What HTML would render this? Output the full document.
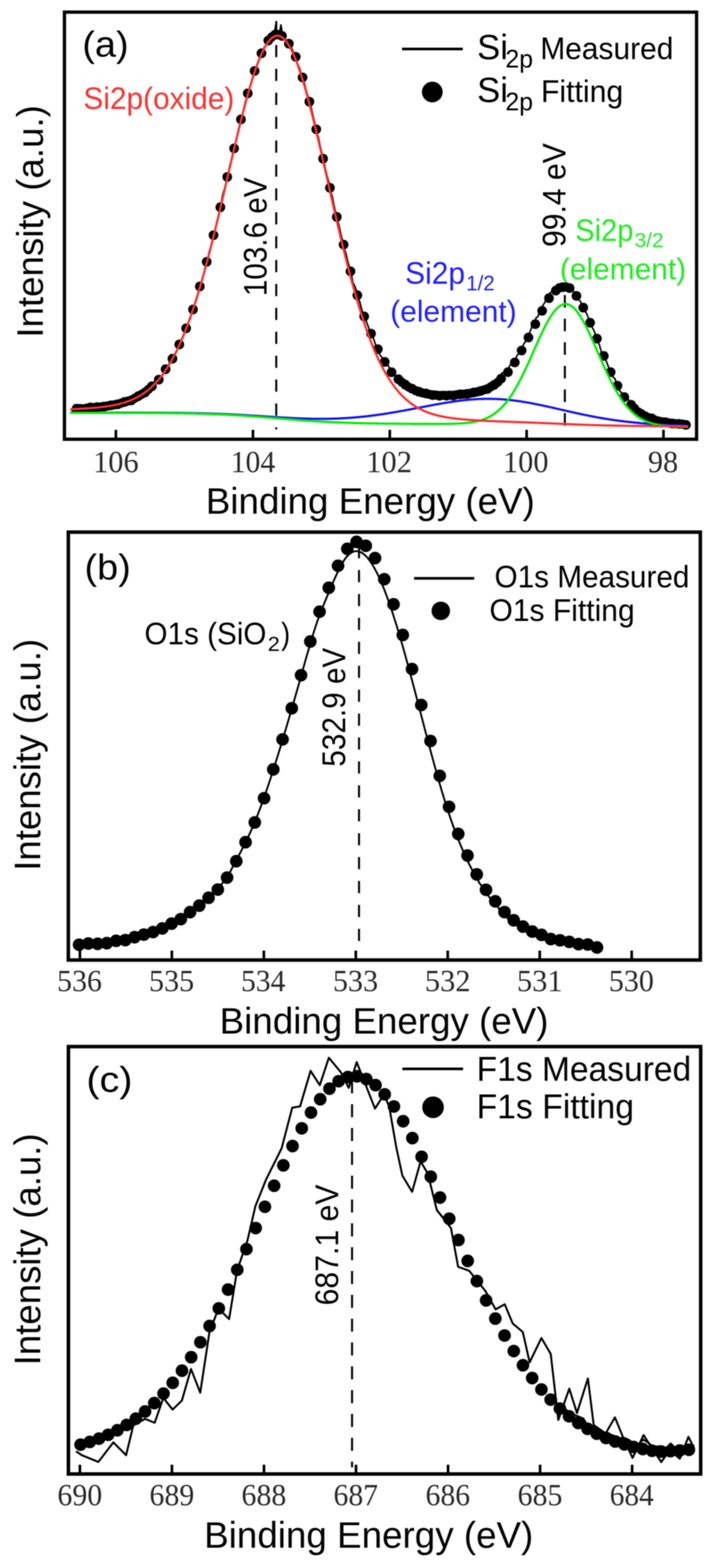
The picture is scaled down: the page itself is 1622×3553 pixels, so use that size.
<!DOCTYPE html>
<html><head><meta charset="utf-8"><title>XPS spectra</title>
<style>html,body{margin:0;padding:0;background:#fff;}svg{display:block;filter:blur(0.9px);}</style>
</head><body>
<svg width="1622" height="3553" viewBox="0 0 1622 3553"><rect width="100%" height="100%" fill="#fff"/><rect x="146.0" y="27.5" width="1432.0" height="967.8" fill="none" stroke="#000" stroke-width="7.5"/>
<line x1="262.5" y1="993.0" x2="262.5" y2="974.0" stroke="#000" stroke-width="6"/>
<line x1="573.0" y1="993.0" x2="573.0" y2="974.0" stroke="#000" stroke-width="6"/>
<line x1="883.0" y1="993.0" x2="883.0" y2="974.0" stroke="#000" stroke-width="6"/>
<line x1="1193.0" y1="993.0" x2="1193.0" y2="974.0" stroke="#000" stroke-width="6"/>
<line x1="1503.0" y1="993.0" x2="1503.0" y2="974.0" stroke="#000" stroke-width="6"/>
<text x="211.0" y="1069.5" font-size="70.0" font-family="'Liberation Serif', 'Times New Roman', serif" fill="#2a2a2a" textLength="103.1" lengthAdjust="spacingAndGlyphs">106</text>
<text x="522.8" y="1069.5" font-size="70.0" font-family="'Liberation Serif', 'Times New Roman', serif" fill="#2a2a2a" textLength="100.7" lengthAdjust="spacingAndGlyphs">104</text>
<text x="829.4" y="1069.5" font-size="70.0" font-family="'Liberation Serif', 'Times New Roman', serif" fill="#2a2a2a" textLength="103.9" lengthAdjust="spacingAndGlyphs">102</text>
<text x="1139.5" y="1069.5" font-size="70.0" font-family="'Liberation Serif', 'Times New Roman', serif" fill="#2a2a2a" textLength="103.1" lengthAdjust="spacingAndGlyphs">100</text>
<text x="1467.8" y="1069.5" font-size="70.0" font-family="'Liberation Serif', 'Times New Roman', serif" fill="#2a2a2a" textLength="68.5" lengthAdjust="spacingAndGlyphs">98</text>
<text x="466.3" y="1163.5" font-size="84.0" font-family="'Liberation Sans', Arial, sans-serif" fill="#000" textLength="745.3" lengthAdjust="spacingAndGlyphs">Binding Energy (eV)</text>
<text x="97.5" y="765.2" font-size="84.0" font-family="'Liberation Sans', Arial, sans-serif" fill="#000" textLength="527.0" lengthAdjust="spacingAndGlyphs" transform="rotate(-90 97.5 765.2)">Intensity (a.u.)</text>
<text x="186.4" y="128.0" font-size="82.0" font-family="'Liberation Sans', Arial, sans-serif" fill="#000" textLength="104.9" lengthAdjust="spacingAndGlyphs">(a)</text>
<text x="188.8" y="246.5" font-size="70.0" font-family="'Liberation Sans', Arial, sans-serif" fill="#ff3333" textLength="342.0" lengthAdjust="spacingAndGlyphs">Si2p(oxide)</text>
<line x1="910.6" y1="111" x2="1048.4" y2="111" stroke="#000" stroke-width="6"/>
<circle cx="979.3" cy="208.5" r="23.5" fill="#000"/>
<text x="1080.8" y="134.0" font-size="79.0" font-family="'Liberation Sans', Arial, sans-serif" fill="#000" textLength="70.0" lengthAdjust="spacingAndGlyphs">Si</text>
<text x="1145.0" y="153.0" font-size="58.0" font-family="'Liberation Sans', Arial, sans-serif" fill="#000" textLength="62.4" lengthAdjust="spacingAndGlyphs">2p</text>
<text x="1223.9" y="134.0" font-size="70.0" font-family="'Liberation Sans', Arial, sans-serif" fill="#000" textLength="301.5" lengthAdjust="spacingAndGlyphs">Measured</text>
<text x="1080.8" y="230.5" font-size="79.0" font-family="'Liberation Sans', Arial, sans-serif" fill="#000" textLength="70.0" lengthAdjust="spacingAndGlyphs">Si</text>
<text x="1145.0" y="249.5" font-size="58.0" font-family="'Liberation Sans', Arial, sans-serif" fill="#000" textLength="62.4" lengthAdjust="spacingAndGlyphs">2p</text>
<text x="1225.4" y="230.5" font-size="70.0" font-family="'Liberation Sans', Arial, sans-serif" fill="#000" textLength="186.5" lengthAdjust="spacingAndGlyphs">Fitting</text>
<text x="603.5" y="671.0" font-size="74.0" font-family="'Liberation Sans', Arial, sans-serif" fill="#000" textLength="268.8" lengthAdjust="spacingAndGlyphs" transform="rotate(-90 603.5 671.0)">103.6 eV</text>
<text x="1281.5" y="559.7" font-size="74.0" font-family="'Liberation Sans', Arial, sans-serif" fill="#000" textLength="235.1" lengthAdjust="spacingAndGlyphs" transform="rotate(-90 1281.5 559.7)">99.4 eV</text>
<text x="1303.0" y="546.0" font-size="70.0" font-family="'Liberation Sans', Arial, sans-serif" fill="#22ee22" textLength="131.9" lengthAdjust="spacingAndGlyphs">Si2p</text>
<text x="1437.5" y="559.5" font-size="47.0" font-family="'Liberation Sans', Arial, sans-serif" fill="#22ee22" textLength="65.9" lengthAdjust="spacingAndGlyphs">3/2</text>
<text x="1268.3" y="632.5" font-size="69.0" font-family="'Liberation Sans', Arial, sans-serif" fill="#22ee22" textLength="286.1" lengthAdjust="spacingAndGlyphs">(element)</text>
<text x="917.8" y="643.0" font-size="70.0" font-family="'Liberation Sans', Arial, sans-serif" fill="#2222ff" textLength="135.6" lengthAdjust="spacingAndGlyphs">Si2p</text>
<text x="1056.0" y="658.0" font-size="49.0" font-family="'Liberation Sans', Arial, sans-serif" fill="#2222ff" textLength="64.8" lengthAdjust="spacingAndGlyphs">1/2</text>
<text x="884.0" y="728.5" font-size="69.0" font-family="'Liberation Sans', Arial, sans-serif" fill="#2222ff" textLength="286.4" lengthAdjust="spacingAndGlyphs">(element)</text>
<line x1="625.8" y1="47.8" x2="625.8" y2="973.0" stroke="#000" stroke-width="4.5" stroke-dasharray="27.5 26.65"/>
<line x1="1279.6" y1="668.5" x2="1279.6" y2="965.5" stroke="#000" stroke-width="4.5" stroke-dasharray="28.5 25"/>
<path d="M163.0,930.5 L166.9,927.3 L170.8,926.4 L174.6,921.9 L178.5,925.2 L182.4,924.8 L186.3,925.2 L190.2,923.8 L194.0,924.8 L197.9,923.6 L201.8,921.5 L205.7,926.0 L209.6,925.7 L213.4,927.2 L217.3,923.2 L221.2,921.8 L225.1,921.1 L229.0,918.5 L232.8,923.6 L236.7,918.5 L240.6,917.8 L244.5,919.4 L248.4,922.5 L252.2,919.0 L256.1,915.5 L260.0,915.5 L263.9,917.6 L267.8,914.9 L271.6,912.6 L275.5,912.8 L279.4,913.8 L283.3,915.3 L287.2,906.9 L291.0,906.9 L294.9,905.0 L298.8,899.8 L302.7,901.4 L306.6,899.3 L310.4,902.1 L314.3,897.2 L318.2,891.6 L322.1,894.2 L326.0,889.3 L329.8,883.5 L333.7,883.1 L337.6,879.9 L341.5,875.9 L345.4,874.3 L349.2,865.4 L353.1,865.7 L357.0,864.2 L360.9,859.2 L364.8,854.9 L368.6,849.8 L372.5,845.2 L376.4,833.7 L380.3,832.0 L384.2,819.7 L388.0,815.7 L391.9,805.8 L395.8,804.9 L399.7,797.7 L403.6,786.2 L407.4,782.1 L411.3,767.8 L415.2,760.4 L419.1,750.7 L423.0,738.0 L426.8,730.8 L430.7,723.3 L434.6,705.6 L438.5,698.2 L442.4,683.8 L446.2,675.7 L450.1,660.1 L454.0,647.3 L457.9,633.7 L461.8,619.0 L465.6,601.2 L469.5,592.8 L473.4,571.8 L477.3,560.2 L481.2,545.6 L485.0,526.8 L488.9,513.0 L492.8,499.1 L496.7,480.2 L500.6,461.9 L504.4,440.8 L508.3,428.4 L512.2,412.5 L516.1,395.9 L520.0,378.2 L523.8,364.4 L527.7,345.7 L531.6,330.2 L535.5,315.6 L539.4,296.0 L543.2,281.4 L547.1,271.2 L551.0,253.1 L554.9,233.4 L558.8,221.6 L562.6,208.9 L566.5,196.9 L570.4,181.5 L574.3,167.7 L578.2,155.5 L582.0,147.4 L585.9,136.4 L589.8,124.9 L593.7,116.9 L597.6,108.4 L601.4,103.8 L605.3,94.4 L609.2,91.6 L613.1,88.0 L617.0,83.8 L620.8,78.4 L624.7,55.7 L628.6,76.7 L632.5,79.6 L636.4,56.4 L640.2,78.6 L644.1,86.4 L648.0,90.8 L651.9,95.3 L655.8,102.3 L659.6,107.3 L663.5,115.1 L667.4,125.1 L671.3,139.3 L675.2,147.2 L679.0,155.3 L682.9,169.4 L686.8,179.6 L690.7,192.6 L694.6,209.1 L698.4,220.1 L702.3,232.1 L706.2,248.8 L710.1,266.3 L714.0,282.1 L717.8,300.6 L721.7,312.5 L725.6,332.1 L729.5,348.1 L733.4,363.6 L737.2,382.6 L741.1,398.7 L745.0,412.6 L748.9,433.7 L752.8,445.4 L756.6,464.9 L760.5,481.3 L764.4,498.7 L768.3,512.3 L772.2,529.8 L776.0,545.4 L779.9,563.4 L783.8,574.6 L787.7,591.4 L791.6,605.2 L795.4,617.2 L799.3,639.8 L803.2,647.2 L807.1,657.2 L811.0,676.3 L814.8,683.2 L818.7,698.3 L822.6,710.9 L826.5,718.7 L830.4,729.9 L834.2,739.9 L838.1,750.7 L842.0,756.8 L845.9,766.7 L849.8,777.8 L853.6,788.6 L857.5,795.6 L861.4,805.4 L865.3,810.2 L869.2,814.3 L873.0,821.5 L876.9,823.3 L880.8,831.2 L884.7,836.4 L888.6,844.2 L892.4,849.8 L896.3,851.5 L900.2,855.5 L904.1,857.2 L908.0,863.8 L911.8,867.9 L915.7,871.4 L919.6,871.5 L923.5,880.2 L927.4,880.8 L931.2,880.1 L935.1,881.1 L939.0,883.4 L942.9,886.1 L946.8,887.1 L950.6,889.6 L954.5,891.4 L958.4,893.7 L962.3,894.2 L966.2,892.2 L970.0,894.0 L973.9,892.9 L977.8,893.0 L981.7,898.9 L985.6,894.0 L989.4,899.7 L993.3,894.7 L997.2,896.2 L1001.1,898.1 L1005.0,895.8 L1008.8,896.6 L1012.7,895.1 L1016.6,894.5 L1020.5,895.1 L1024.4,893.8 L1028.2,898.6 L1032.1,894.4 L1036.0,898.3 L1039.9,888.3 L1043.8,893.9 L1047.6,894.7 L1051.5,892.4 L1055.4,895.0 L1059.3,893.4 L1063.2,890.2 L1067.0,890.4 L1070.9,894.1 L1074.8,887.0 L1078.7,885.5 L1082.6,882.1 L1086.4,881.6 L1090.3,876.5 L1094.2,876.9 L1098.1,880.6 L1102.0,875.6 L1105.8,872.9 L1109.7,872.1 L1113.6,871.7 L1117.5,866.6 L1121.4,867.3 L1125.2,862.4 L1129.1,857.4 L1133.0,857.6 L1136.9,845.1 L1140.8,845.3 L1144.6,843.0 L1148.5,836.0 L1152.4,832.9 L1156.3,826.8 L1160.2,821.5 L1164.0,823.2 L1167.9,812.6 L1171.8,804.8 L1175.7,801.3 L1179.6,791.0 L1183.4,786.4 L1187.3,777.9 L1191.2,773.1 L1195.1,758.7 L1199.0,755.7 L1202.8,746.3 L1206.7,735.4 L1210.6,732.3 L1214.5,720.0 L1218.4,717.6 L1222.2,707.4 L1226.1,700.2 L1230.0,691.5 L1233.9,686.2 L1237.8,673.5 L1241.6,671.5 L1245.5,664.1 L1249.4,661.4 L1253.3,657.5 L1257.2,656.5 L1261.0,651.4 L1264.9,656.1 L1268.8,656.4 L1272.7,649.5 L1276.6,649.5 L1280.4,650.4 L1284.3,653.6 L1288.2,656.9 L1292.1,652.6 L1296.0,657.3 L1299.8,660.4 L1303.7,665.1 L1307.6,669.5 L1311.5,680.0 L1315.4,683.3 L1319.2,696.4 L1323.1,702.9 L1327.0,706.8 L1330.9,715.3 L1334.8,725.1 L1338.6,738.6 L1342.5,743.0 L1346.4,751.0 L1350.3,763.8 L1354.2,774.3 L1358.0,781.6 L1361.9,796.1 L1365.8,802.5 L1369.7,812.3 L1373.6,818.5 L1377.4,829.1 L1381.3,837.4 L1385.2,841.1 L1389.1,854.8 L1393.0,857.9 L1396.8,869.1 L1400.7,873.0 L1404.6,887.3 L1408.5,889.9 L1412.4,897.0 L1416.2,902.7 L1420.1,903.0 L1424.0,905.8 L1427.9,914.7 L1431.8,921.6 L1435.6,923.7 L1439.5,928.9 L1443.4,932.5 L1447.3,930.2 L1451.2,936.9 L1455.0,943.2 L1458.9,939.9 L1462.8,938.9 L1466.7,944.7 L1470.6,946.0 L1474.4,949.5 L1478.3,948.0 L1482.2,951.5 L1486.1,947.6 L1490.0,955.4 L1493.8,957.9 L1497.7,958.2 L1501.6,952.7 L1505.5,957.5 L1509.4,950.8 L1513.2,958.6 L1517.1,958.3 L1521.0,956.7 L1524.9,960.1 L1528.8,960.0 L1532.6,962.1 L1536.5,960.6 L1540.4,961.2 L1544.3,956.6 L1548.2,958.6 L1552.0,960.3 L1555.9,962.2" fill="none" stroke="#000" stroke-width="3.5" stroke-linejoin="round" stroke-linecap="round"/>
<g fill="#000"><circle cx="181.3" cy="925.7" r="10.5"/><circle cx="196.8" cy="924.7" r="10.5"/><circle cx="212.3" cy="923.6" r="10.5"/><circle cx="227.8" cy="922.0" r="10.5"/><circle cx="243.3" cy="920.0" r="10.5"/><circle cx="258.8" cy="917.3" r="10.5"/><circle cx="274.4" cy="913.6" r="10.5"/><circle cx="289.9" cy="908.7" r="10.5"/><circle cx="305.4" cy="902.2" r="10.5"/><circle cx="320.9" cy="893.5" r="10.5"/><circle cx="336.4" cy="882.2" r="10.5"/><circle cx="615.6" cy="83.8" r="10.5"/><circle cx="631.1" cy="78.3" r="10.5"/><circle cx="910.3" cy="866.1" r="10.5"/><circle cx="925.8" cy="877.2" r="10.5"/><circle cx="941.3" cy="885.1" r="10.5"/><circle cx="956.8" cy="890.3" r="10.5"/><circle cx="972.3" cy="893.5" r="10.5"/><circle cx="987.8" cy="895.2" r="10.5"/><circle cx="1003.3" cy="895.7" r="10.5"/><circle cx="1018.8" cy="895.5" r="10.5"/><circle cx="1034.3" cy="894.6" r="10.5"/><circle cx="1049.9" cy="893.2" r="10.5"/><circle cx="1065.4" cy="891.1" r="10.5"/><circle cx="1080.9" cy="888.0" r="10.5"/><circle cx="1096.4" cy="883.4" r="10.5"/><circle cx="1111.9" cy="876.5" r="10.5"/><circle cx="1127.4" cy="866.4" r="10.5"/><circle cx="1267.0" cy="652.1" r="10.5"/><circle cx="1282.5" cy="650.2" r="10.5"/><circle cx="1437.6" cy="925.4" r="10.5"/><circle cx="1453.1" cy="937.6" r="10.5"/><circle cx="1468.6" cy="946.1" r="10.5"/><circle cx="1484.1" cy="951.9" r="10.5"/><circle cx="1499.6" cy="955.7" r="10.5"/><circle cx="1515.2" cy="958.2" r="10.5"/><circle cx="1530.7" cy="959.9" r="10.5"/><circle cx="1546.2" cy="961.0" r="10.5"/></g>
<g fill="#000"><circle cx="173.5" cy="926.1" r="11"/><circle cx="189.1" cy="926.7" r="11"/><circle cx="204.6" cy="923.3" r="11"/><circle cx="220.1" cy="922.6" r="11"/><circle cx="235.6" cy="921.3" r="11"/><circle cx="251.1" cy="918.5" r="11"/><circle cx="266.6" cy="916.1" r="11"/><circle cx="282.1" cy="910.8" r="11"/><circle cx="297.6" cy="907.1" r="11"/><circle cx="313.1" cy="897.8" r="11"/><circle cx="328.6" cy="889.3" r="11"/><circle cx="344.2" cy="875.3" r="11"/><circle cx="359.7" cy="860.3" r="11"/><circle cx="375.2" cy="836.6" r="11"/><circle cx="390.7" cy="812.8" r="11"/><circle cx="406.2" cy="780.5" r="11"/><circle cx="421.7" cy="743.9" r="11"/><circle cx="437.2" cy="701.2" r="11"/><circle cx="452.7" cy="649.1" r="11"/><circle cx="468.2" cy="593.3" r="11"/><circle cx="483.7" cy="532.9" r="11"/><circle cx="499.2" cy="469.6" r="11"/><circle cx="514.8" cy="400.9" r="11"/><circle cx="530.3" cy="336.2" r="11"/><circle cx="545.8" cy="270.5" r="11"/><circle cx="561.3" cy="211.4" r="11"/><circle cx="576.8" cy="160.8" r="11"/><circle cx="592.3" cy="120.7" r="11"/><circle cx="607.8" cy="91.7" r="11"/><circle cx="623.3" cy="78.6" r="11"/><circle cx="638.8" cy="81.4" r="11"/><circle cx="654.4" cy="99.0" r="11"/><circle cx="669.9" cy="128.8" r="11"/><circle cx="685.4" cy="175.5" r="11"/><circle cx="700.9" cy="230.4" r="11"/><circle cx="716.4" cy="292.9" r="11"/><circle cx="731.9" cy="359.6" r="11"/><circle cx="747.4" cy="425.6" r="11"/><circle cx="762.9" cy="491.6" r="11"/><circle cx="778.4" cy="554.3" r="11"/><circle cx="793.9" cy="614.7" r="11"/><circle cx="809.5" cy="669.1" r="11"/><circle cx="825.0" cy="717.1" r="11"/><circle cx="840.5" cy="755.9" r="11"/><circle cx="856.0" cy="791.3" r="11"/><circle cx="871.5" cy="820.1" r="11"/><circle cx="887.0" cy="843.5" r="11"/><circle cx="902.5" cy="859.3" r="11"/><circle cx="918.0" cy="871.6" r="11"/><circle cx="933.5" cy="880.8" r="11"/><circle cx="949.0" cy="887.6" r="11"/><circle cx="964.6" cy="891.5" r="11"/><circle cx="980.1" cy="895.3" r="11"/><circle cx="995.6" cy="896.7" r="11"/><circle cx="1011.1" cy="896.4" r="11"/><circle cx="1026.6" cy="896.3" r="11"/><circle cx="1042.1" cy="893.5" r="11"/><circle cx="1057.6" cy="892.6" r="11"/><circle cx="1073.1" cy="889.3" r="11"/><circle cx="1088.6" cy="886.0" r="11"/><circle cx="1104.1" cy="881.5" r="11"/><circle cx="1119.7" cy="871.9" r="11"/><circle cx="1135.2" cy="858.0" r="11"/><circle cx="1150.7" cy="843.2" r="11"/><circle cx="1166.2" cy="821.3" r="11"/><circle cx="1181.7" cy="794.2" r="11"/><circle cx="1197.2" cy="764.8" r="11"/><circle cx="1212.7" cy="734.5" r="11"/><circle cx="1228.2" cy="704.3" r="11"/><circle cx="1243.7" cy="675.6" r="11"/><circle cx="1259.2" cy="658.5" r="11"/><circle cx="1274.8" cy="650.8" r="11"/><circle cx="1290.3" cy="652.8" r="11"/><circle cx="1305.8" cy="670.4" r="11"/><circle cx="1321.3" cy="697.1" r="11"/><circle cx="1336.8" cy="731.3" r="11"/><circle cx="1352.3" cy="767.3" r="11"/><circle cx="1367.8" cy="806.5" r="11"/><circle cx="1383.3" cy="843.2" r="11"/><circle cx="1398.8" cy="874.1" r="11"/><circle cx="1414.3" cy="899.8" r="11"/><circle cx="1429.8" cy="917.2" r="11"/><circle cx="1445.4" cy="933.9" r="11"/><circle cx="1460.9" cy="943.0" r="11"/><circle cx="1476.4" cy="947.9" r="11"/><circle cx="1491.9" cy="954.7" r="11"/><circle cx="1507.4" cy="956.7" r="11"/><circle cx="1522.9" cy="959.6" r="11"/><circle cx="1538.4" cy="960.4" r="11"/><circle cx="1553.9" cy="962.7" r="11"/></g>
<path d="M161.0,935.1 L162.0,935.1 L163.0,935.1 L164.0,935.1 L165.0,935.1 L166.0,935.1 L167.0,935.1 L168.0,935.1 L169.0,935.1 L170.0,935.1 L171.0,935.1 L172.0,935.1 L173.0,935.1 L174.0,935.1 L175.0,935.1 L176.0,935.1 L177.0,935.1 L178.0,935.1 L179.0,935.1 L180.0,935.1 L181.0,935.1 L182.0,935.1 L183.0,935.1 L184.0,935.1 L184.9,935.1 L185.9,935.1 L186.9,935.1 L187.9,935.1 L188.9,935.1 L189.9,935.1 L190.9,935.1 L191.9,935.1 L192.9,935.1 L193.9,935.1 L194.9,935.1 L195.9,935.1 L196.9,935.1 L197.9,935.1 L198.9,935.1 L199.9,935.1 L200.9,935.1 L201.9,935.1 L202.9,935.1 L203.9,935.1 L204.9,935.1 L205.9,935.1 L206.9,935.1 L207.9,935.1 L208.9,935.1 L209.9,935.1 L210.9,935.1 L211.9,935.1 L212.9,935.1 L213.9,935.1 L214.9,935.1 L215.9,935.1 L216.9,935.1 L217.9,935.1 L218.9,935.1 L219.9,935.1 L220.9,935.1 L221.9,935.1 L222.9,935.1 L223.9,935.1 L224.9,935.1 L225.9,935.1 L226.9,935.1 L227.9,935.1 L228.9,935.1 L229.9,935.1 L230.8,935.1 L231.8,935.1 L232.8,935.1 L233.8,935.1 L234.8,935.1 L235.8,935.1 L236.8,935.1 L237.8,935.1 L238.8,935.1 L239.8,935.1 L240.8,935.1 L241.8,935.1 L242.8,935.1 L243.8,935.1 L244.8,935.1 L245.8,935.1 L246.8,935.1 L247.8,935.1 L248.8,935.1 L249.8,935.1 L250.8,935.1 L251.8,935.1 L252.8,935.1 L253.8,935.1 L254.8,935.1 L255.8,935.1 L256.8,935.1 L257.8,935.1 L258.8,935.1 L259.8,935.1 L260.8,935.1 L261.8,935.1 L262.8,935.1 L263.8,935.1 L264.8,935.1 L265.8,935.1 L266.8,935.1 L267.8,935.1 L268.8,935.1 L269.8,935.1 L270.8,935.1 L271.8,935.1 L272.8,935.1 L273.8,935.1 L274.8,935.1 L275.8,935.1 L276.8,935.1 L277.7,935.1 L278.7,935.1 L279.7,935.1 L280.7,935.1 L281.7,935.1 L282.7,935.1 L283.7,935.1 L284.7,935.1 L285.7,935.1 L286.7,935.1 L287.7,935.1 L288.7,935.1 L289.7,935.1 L290.7,935.1 L291.7,935.1 L292.7,935.1 L293.7,935.1 L294.7,935.1 L295.7,935.1 L296.7,935.1 L297.7,935.1 L298.7,935.1 L299.7,935.1 L300.7,935.1 L301.7,935.1 L302.7,935.1 L303.7,935.1 L304.7,935.1 L305.7,935.1 L306.7,935.1 L307.7,935.1 L308.7,935.1 L309.7,935.1 L310.7,935.1 L311.7,935.1 L312.7,935.1 L313.7,935.1 L314.7,935.1 L315.7,935.1 L316.7,935.1 L317.7,935.1 L318.7,935.1 L319.7,935.1 L320.7,935.1 L321.7,935.1 L322.7,935.1 L323.7,935.1 L324.6,935.1 L325.6,935.1 L326.6,935.1 L327.6,935.2 L328.6,935.2 L329.6,935.2 L330.6,935.2 L331.6,935.2 L332.6,935.2 L333.6,935.2 L334.6,935.2 L335.6,935.2 L336.6,935.2 L337.6,935.2 L338.6,935.2 L339.6,935.2 L340.6,935.2 L341.6,935.2 L342.6,935.2 L343.6,935.2 L344.6,935.2 L345.6,935.2 L346.6,935.2 L347.6,935.2 L348.6,935.2 L349.6,935.2 L350.6,935.2 L351.6,935.2 L352.6,935.2 L353.6,935.2 L354.6,935.2 L355.6,935.3 L356.6,935.3 L357.6,935.3 L358.6,935.3 L359.6,935.3 L360.6,935.3 L361.6,935.3 L362.6,935.3 L363.6,935.3 L364.6,935.3 L365.6,935.3 L366.6,935.3 L367.6,935.3 L368.6,935.3 L369.6,935.3 L370.5,935.3 L371.5,935.3 L372.5,935.4 L373.5,935.4 L374.5,935.4 L375.5,935.4 L376.5,935.4 L377.5,935.4 L378.5,935.4 L379.5,935.4 L380.5,935.4 L381.5,935.4 L382.5,935.4 L383.5,935.4 L384.5,935.4 L385.5,935.4 L386.5,935.5 L387.5,935.5 L388.5,935.5 L389.5,935.5 L390.5,935.5 L391.5,935.5 L392.5,935.5 L393.5,935.5 L394.5,935.5 L395.5,935.5 L396.5,935.6 L397.5,935.6 L398.5,935.6 L399.5,935.6 L400.5,935.6 L401.5,935.6 L402.5,935.6 L403.5,935.6 L404.5,935.6 L405.5,935.7 L406.5,935.7 L407.5,935.7 L408.5,935.7 L409.5,935.7 L410.5,935.7 L411.5,935.7 L412.5,935.7 L413.5,935.8 L414.5,935.8 L415.5,935.8 L416.5,935.8 L417.4,935.8 L418.4,935.8 L419.4,935.8 L420.4,935.9 L421.4,935.9 L422.4,935.9 L423.4,935.9 L424.4,935.9 L425.4,935.9 L426.4,936.0 L427.4,936.0 L428.4,936.0 L429.4,936.0 L430.4,936.0 L431.4,936.0 L432.4,936.1 L433.4,936.1 L434.4,936.1 L435.4,936.1 L436.4,936.1 L437.4,936.2 L438.4,936.2 L439.4,936.2 L440.4,936.2 L441.4,936.2 L442.4,936.3 L443.4,936.3 L444.4,936.3 L445.4,936.3 L446.4,936.3 L447.4,936.4 L448.4,936.4 L449.4,936.4 L450.4,936.4 L451.4,936.4 L452.4,936.5 L453.4,936.5 L454.4,936.5 L455.4,936.5 L456.4,936.6 L457.4,936.6 L458.4,936.6 L459.4,936.6 L460.4,936.7 L461.4,936.7 L462.4,936.7 L463.4,936.8 L464.3,936.8 L465.3,936.8 L466.3,936.8 L467.3,936.9 L468.3,936.9 L469.3,936.9 L470.3,936.9 L471.3,937.0 L472.3,937.0 L473.3,937.0 L474.3,937.1 L475.3,937.1 L476.3,937.1 L477.3,937.2 L478.3,937.2 L479.3,937.2 L480.3,937.3 L481.3,937.3 L482.3,937.3 L483.3,937.4 L484.3,937.4 L485.3,937.4 L486.3,937.5 L487.3,937.5 L488.3,937.5 L489.3,937.6 L490.3,937.6 L491.3,937.6 L492.3,937.7 L493.3,937.7 L494.3,937.8 L495.3,937.8 L496.3,937.8 L497.3,937.9 L498.3,937.9 L499.3,937.9 L500.3,938.0 L501.3,938.0 L502.3,938.1 L503.3,938.1 L504.3,938.1 L505.3,938.2 L506.3,938.2 L507.3,938.3 L508.3,938.3 L509.3,938.4 L510.2,938.4 L511.2,938.4 L512.2,938.5 L513.2,938.5 L514.2,938.6 L515.2,938.6 L516.2,938.7 L517.2,938.7 L518.2,938.8 L519.2,938.8 L520.2,938.9 L521.2,938.9 L522.2,939.0 L523.2,939.0 L524.2,939.0 L525.2,939.1 L526.2,939.1 L527.2,939.2 L528.2,939.2 L529.2,939.3 L530.2,939.3 L531.2,939.4 L532.2,939.4 L533.2,939.5 L534.2,939.6 L535.2,939.6 L536.2,939.7 L537.2,939.7 L538.2,939.8 L539.2,939.8 L540.2,939.9 L541.2,939.9 L542.2,940.0 L543.2,940.0 L544.2,940.1 L545.2,940.1 L546.2,940.2 L547.2,940.3 L548.2,940.3 L549.2,940.4 L550.2,940.4 L551.2,940.5 L552.2,940.5 L553.2,940.6 L554.2,940.7 L555.2,940.7 L556.2,940.8 L557.1,940.8 L558.1,940.9 L559.1,940.9 L560.1,941.0 L561.1,941.1 L562.1,941.1 L563.1,941.2 L564.1,941.2 L565.1,941.3 L566.1,941.4 L567.1,941.4 L568.1,941.5 L569.1,941.6 L570.1,941.6 L571.1,941.7 L572.1,941.7 L573.1,941.8 L574.1,941.9 L575.1,941.9 L576.1,942.0 L577.1,942.1 L578.1,942.1 L579.1,942.2 L580.1,942.2 L581.1,942.3 L582.1,942.4 L583.1,942.4 L584.1,942.5 L585.1,942.6 L586.1,942.6 L587.1,942.7 L588.1,942.8 L589.1,942.8 L590.1,942.9 L591.1,943.0 L592.1,943.0 L593.1,943.1 L594.1,943.1 L595.1,943.2 L596.1,943.3 L597.1,943.3 L598.1,943.4 L599.1,943.5 L600.1,943.5 L601.1,943.6 L602.1,943.7 L603.1,943.7 L604.0,943.8 L605.0,943.9 L606.0,943.9 L607.0,944.0 L608.0,944.1 L609.0,944.1 L610.0,944.2 L611.0,944.3 L612.0,944.3 L613.0,944.4 L614.0,944.5 L615.0,944.5 L616.0,944.6 L617.0,944.6 L618.0,944.7 L619.0,944.8 L620.0,944.8 L621.0,944.9 L622.0,945.0 L623.0,945.0 L624.0,945.1 L625.0,945.2 L626.0,945.2 L627.0,945.3 L628.0,945.3 L629.0,945.4 L630.0,945.5 L631.0,945.5 L632.0,945.6 L633.0,945.7 L634.0,945.7 L635.0,945.8 L636.0,945.8 L637.0,945.9 L638.0,946.0 L639.0,946.0 L640.0,946.1 L641.0,946.1 L642.0,946.2 L643.0,946.3 L644.0,946.3 L645.0,946.4 L646.0,946.4 L647.0,946.5 L648.0,946.5 L649.0,946.6 L649.9,946.6 L650.9,946.7 L651.9,946.8 L652.9,946.8 L653.9,946.9 L654.9,946.9 L655.9,947.0 L656.9,947.0 L657.9,947.1 L658.9,947.1 L659.9,947.2 L660.9,947.2 L661.9,947.3 L662.9,947.3 L663.9,947.4 L664.9,947.4 L665.9,947.5 L666.9,947.5 L667.9,947.6 L668.9,947.6 L669.9,947.7 L670.9,947.7 L671.9,947.8 L672.9,947.8 L673.9,947.8 L674.9,947.9 L675.9,947.9 L676.9,948.0 L677.9,948.0 L678.9,948.0 L679.9,948.1 L680.9,948.1 L681.9,948.2 L682.9,948.2 L683.9,948.2 L684.9,948.3 L685.9,948.3 L686.9,948.3 L687.9,948.4 L688.9,948.4 L689.9,948.4 L690.9,948.5 L691.9,948.5 L692.9,948.5 L693.9,948.6 L694.9,948.6 L695.9,948.6 L696.8,948.6 L697.8,948.7 L698.8,948.7 L699.8,948.7 L700.8,948.7 L701.8,948.8 L702.8,948.8 L703.8,948.8 L704.8,948.8 L705.8,948.9 L706.8,948.9 L707.8,948.9 L708.8,948.9 L709.8,948.9 L710.8,948.9 L711.8,949.0 L712.8,949.0 L713.8,949.0 L714.8,949.0 L715.8,949.0 L716.8,949.0 L717.8,949.0 L718.8,949.0 L719.8,949.0 L720.8,949.0 L721.8,949.0 L722.8,949.0 L723.8,949.1 L724.8,949.1 L725.8,949.1 L726.8,949.1 L727.8,949.1 L728.8,949.1 L729.8,949.0 L730.8,949.0 L731.8,949.0 L732.8,949.0 L733.8,949.0 L734.8,949.0 L735.8,949.0 L736.8,949.0 L737.8,949.0 L738.8,949.0 L739.8,949.0 L740.8,949.0 L741.8,948.9 L742.7,948.9 L743.7,948.9 L744.7,948.9 L745.7,948.9 L746.7,948.8 L747.7,948.8 L748.7,948.8 L749.7,948.8 L750.7,948.8 L751.7,948.7 L752.7,948.7 L753.7,948.7 L754.7,948.6 L755.7,948.6 L756.7,948.6 L757.7,948.6 L758.7,948.5 L759.7,948.5 L760.7,948.5 L761.7,948.4 L762.7,948.4 L763.7,948.3 L764.7,948.3 L765.7,948.3 L766.7,948.2 L767.7,948.2 L768.7,948.1 L769.7,948.1 L770.7,948.0 L771.7,948.0 L772.7,947.9 L773.7,947.9 L774.7,947.8 L775.7,947.8 L776.7,947.7 L777.7,947.7 L778.7,947.6 L779.7,947.6 L780.7,947.5 L781.7,947.5 L782.7,947.4 L783.7,947.3 L784.7,947.3 L785.7,947.2 L786.7,947.1 L787.7,947.1 L788.7,947.0 L789.6,946.9 L790.6,946.9 L791.6,946.8 L792.6,946.7 L793.6,946.7 L794.6,946.6 L795.6,946.5 L796.6,946.4 L797.6,946.4 L798.6,946.3 L799.6,946.2 L800.6,946.1 L801.6,946.0 L802.6,946.0 L803.6,945.9 L804.6,945.8 L805.6,945.7 L806.6,945.6 L807.6,945.5 L808.6,945.4 L809.6,945.4 L810.6,945.3 L811.6,945.2 L812.6,945.1 L813.6,945.0 L814.6,944.9 L815.6,944.8 L816.6,944.7 L817.6,944.6 L818.6,944.5 L819.6,944.4 L820.6,944.3 L821.6,944.2 L822.6,944.1 L823.6,944.0 L824.6,943.9 L825.6,943.8 L826.6,943.7 L827.6,943.5 L828.6,943.4 L829.6,943.3 L830.6,943.2 L831.6,943.1 L832.6,943.0 L833.6,942.9 L834.6,942.7 L835.6,942.6 L836.5,942.5 L837.5,942.4 L838.5,942.3 L839.5,942.1 L840.5,942.0 L841.5,941.9 L842.5,941.8 L843.5,941.6 L844.5,941.5 L845.5,941.4 L846.5,941.3 L847.5,941.1 L848.5,941.0 L849.5,940.9 L850.5,940.7 L851.5,940.6 L852.5,940.5 L853.5,940.3 L854.5,940.2 L855.5,940.0 L856.5,939.9 L857.5,939.8 L858.5,939.6 L859.5,939.5 L860.5,939.3 L861.5,939.2 L862.5,939.0 L863.5,938.9 L864.5,938.8 L865.5,938.6 L866.5,938.5 L867.5,938.3 L868.5,938.2 L869.5,938.0 L870.5,937.8 L871.5,937.7 L872.5,937.5 L873.5,937.4 L874.5,937.2 L875.5,937.1 L876.5,936.9 L877.5,936.8 L878.5,936.6 L879.5,936.4 L880.5,936.3 L881.5,936.1 L882.4,936.0 L883.4,935.8 L884.4,935.6 L885.4,935.5 L886.4,935.3 L887.4,935.1 L888.4,935.0 L889.4,934.8 L890.4,934.6 L891.4,934.5 L892.4,934.3 L893.4,934.1 L894.4,933.9 L895.4,933.8 L896.4,933.6 L897.4,933.4 L898.4,933.3 L899.4,933.1 L900.4,932.9 L901.4,932.7 L902.4,932.6 L903.4,932.4 L904.4,932.2 L905.4,932.0 L906.4,931.8 L907.4,931.7 L908.4,931.5 L909.4,931.3 L910.4,931.1 L911.4,930.9 L912.4,930.8 L913.4,930.6 L914.4,930.4 L915.4,930.2 L916.4,930.0 L917.4,929.8 L918.4,929.7 L919.4,929.5 L920.4,929.3 L921.4,929.1 L922.4,928.9 L923.4,928.7 L924.4,928.5 L925.4,928.4 L926.4,928.2 L927.4,928.0 L928.4,927.8 L929.3,927.6 L930.3,927.4 L931.3,927.2 L932.3,927.0 L933.3,926.8 L934.3,926.7 L935.3,926.5 L936.3,926.3 L937.3,926.1 L938.3,925.9 L939.3,925.7 L940.3,925.5 L941.3,925.3 L942.3,925.1 L943.3,924.9 L944.3,924.7 L945.3,924.6 L946.3,924.4 L947.3,924.2 L948.3,924.0 L949.3,923.8 L950.3,923.6 L951.3,923.4 L952.3,923.2 L953.3,923.0 L954.3,922.8 L955.3,922.6 L956.3,922.4 L957.3,922.2 L958.3,922.1 L959.3,921.9 L960.3,921.7 L961.3,921.5 L962.3,921.3 L963.3,921.1 L964.3,920.9 L965.3,920.7 L966.3,920.5 L967.3,920.3 L968.3,920.1 L969.3,920.0 L970.3,919.8 L971.3,919.6 L972.3,919.4 L973.3,919.2 L974.3,919.0 L975.3,918.8 L976.2,918.6 L977.2,918.4 L978.2,918.3 L979.2,918.1 L980.2,917.9 L981.2,917.7 L982.2,917.5 L983.2,917.3 L984.2,917.1 L985.2,917.0 L986.2,916.8 L987.2,916.6 L988.2,916.4 L989.2,916.2 L990.2,916.0 L991.2,915.9 L992.2,915.7 L993.2,915.5 L994.2,915.3 L995.2,915.2 L996.2,915.0 L997.2,914.8 L998.2,914.6 L999.2,914.4 L1000.2,914.3 L1001.2,914.1 L1002.2,913.9 L1003.2,913.8 L1004.2,913.6 L1005.2,913.4 L1006.2,913.2 L1007.2,913.1 L1008.2,912.9 L1009.2,912.7 L1010.2,912.6 L1011.2,912.4 L1012.2,912.3 L1013.2,912.1 L1014.2,911.9 L1015.2,911.8 L1016.2,911.6 L1017.2,911.5 L1018.2,911.3 L1019.2,911.1 L1020.2,911.0 L1021.2,910.8 L1022.1,910.7 L1023.1,910.5 L1024.1,910.4 L1025.1,910.2 L1026.1,910.1 L1027.1,909.9 L1028.1,909.8 L1029.1,909.7 L1030.1,909.5 L1031.1,909.4 L1032.1,909.2 L1033.1,909.1 L1034.1,909.0 L1035.1,908.8 L1036.1,908.7 L1037.1,908.6 L1038.1,908.4 L1039.1,908.3 L1040.1,908.2 L1041.1,908.0 L1042.1,907.9 L1043.1,907.8 L1044.1,907.7 L1045.1,907.5 L1046.1,907.4 L1047.1,907.3 L1048.1,907.2 L1049.1,907.1 L1050.1,907.0 L1051.1,906.9 L1052.1,906.7 L1053.1,906.6 L1054.1,906.5 L1055.1,906.4 L1056.1,906.3 L1057.1,906.2 L1058.1,906.1 L1059.1,906.0 L1060.1,905.9 L1061.1,905.8 L1062.1,905.8 L1063.1,905.7 L1064.1,905.6 L1065.1,905.5 L1066.1,905.4 L1067.1,905.3 L1068.1,905.2 L1069.0,905.2 L1070.0,905.1 L1071.0,905.0 L1072.0,904.9 L1073.0,904.9 L1074.0,904.8 L1075.0,904.7 L1076.0,904.7 L1077.0,904.6 L1078.0,904.6 L1079.0,904.5 L1080.0,904.4 L1081.0,904.4 L1082.0,904.3 L1083.0,904.3 L1084.0,904.2 L1085.0,904.2 L1086.0,904.1 L1087.0,904.1 L1088.0,904.1 L1089.0,904.0 L1090.0,904.0 L1091.0,904.0 L1092.0,903.9 L1093.0,903.9 L1094.0,903.9 L1095.0,903.8 L1096.0,903.8 L1097.0,903.8 L1098.0,903.8 L1099.0,903.8 L1100.0,903.8 L1101.0,903.7 L1102.0,903.7 L1103.0,903.7 L1104.0,903.7 L1105.0,903.7 L1106.0,903.7 L1107.0,903.7 L1108.0,903.7 L1109.0,903.7 L1110.0,903.7 L1111.0,903.8 L1112.0,903.8 L1113.0,903.8 L1114.0,903.8 L1114.9,903.8 L1115.9,903.8 L1116.9,903.9 L1117.9,903.9 L1118.9,903.9 L1119.9,904.0 L1120.9,904.0 L1121.9,904.0 L1122.9,904.1 L1123.9,904.1 L1124.9,904.1 L1125.9,904.2 L1126.9,904.2 L1127.9,904.3 L1128.9,904.3 L1129.9,904.4 L1130.9,904.4 L1131.9,904.5 L1132.9,904.6 L1133.9,904.6 L1134.9,904.7 L1135.9,904.7 L1136.9,904.8 L1137.9,904.9 L1138.9,905.0 L1139.9,905.0 L1140.9,905.1 L1141.9,905.2 L1142.9,905.3 L1143.9,905.4 L1144.9,905.4 L1145.9,905.5 L1146.9,905.6 L1147.9,905.7 L1148.9,905.8 L1149.9,905.9 L1150.9,906.0 L1151.9,906.1 L1152.9,906.2 L1153.9,906.3 L1154.9,906.4 L1155.9,906.5 L1156.9,906.6 L1157.9,906.7 L1158.9,906.8 L1159.9,907.0 L1160.9,907.1 L1161.8,907.2 L1162.8,907.3 L1163.8,907.4 L1164.8,907.6 L1165.8,907.7 L1166.8,907.8 L1167.8,908.0 L1168.8,908.1 L1169.8,908.2 L1170.8,908.4 L1171.8,908.5 L1172.8,908.6 L1173.8,908.8 L1174.8,908.9 L1175.8,909.1 L1176.8,909.2 L1177.8,909.3 L1178.8,909.5 L1179.8,909.6 L1180.8,909.8 L1181.8,910.0 L1182.8,910.1 L1183.8,910.3 L1184.8,910.4 L1185.8,910.6 L1186.8,910.8 L1187.8,910.9 L1188.8,911.1 L1189.8,911.2 L1190.8,911.4 L1191.8,911.6 L1192.8,911.8 L1193.8,911.9 L1194.8,912.1 L1195.8,912.3 L1196.8,912.5 L1197.8,912.6 L1198.8,912.8 L1199.8,913.0 L1200.8,913.2 L1201.8,913.4 L1202.8,913.5 L1203.8,913.7 L1204.8,913.9 L1205.8,914.1 L1206.8,914.3 L1207.8,914.5 L1208.7,914.7 L1209.7,914.9 L1210.7,915.1 L1211.7,915.3 L1212.7,915.5 L1213.7,915.7 L1214.7,915.9 L1215.7,916.1 L1216.7,916.3 L1217.7,916.5 L1218.7,916.7 L1219.7,916.9 L1220.7,917.1 L1221.7,917.3 L1222.7,917.5 L1223.7,917.7 L1224.7,917.9 L1225.7,918.1 L1226.7,918.3 L1227.7,918.5 L1228.7,918.7 L1229.7,918.9 L1230.7,919.2 L1231.7,919.4 L1232.7,919.6 L1233.7,919.8 L1234.7,920.0 L1235.7,920.2 L1236.7,920.5 L1237.7,920.7 L1238.7,920.9 L1239.7,921.1 L1240.7,921.3 L1241.7,921.6 L1242.7,921.8 L1243.7,922.0 L1244.7,922.2 L1245.7,922.4 L1246.7,922.7 L1247.7,922.9 L1248.7,923.1 L1249.7,923.3 L1250.7,923.6 L1251.7,923.8 L1252.7,924.0 L1253.7,924.2 L1254.6,924.5 L1255.6,924.7 L1256.6,924.9 L1257.6,925.1 L1258.6,925.4 L1259.6,925.6 L1260.6,925.8 L1261.6,926.1 L1262.6,926.3 L1263.6,926.5 L1264.6,926.7 L1265.6,927.0 L1266.6,927.2 L1267.6,927.4 L1268.6,927.7 L1269.6,927.9 L1270.6,928.1 L1271.6,928.3 L1272.6,928.6 L1273.6,928.8 L1274.6,929.0 L1275.6,929.3 L1276.6,929.5 L1277.6,929.7 L1278.6,929.9 L1279.6,930.2 L1280.6,930.4 L1281.6,930.6 L1282.6,930.9 L1283.6,931.1 L1284.6,931.3 L1285.6,931.5 L1286.6,931.8 L1287.6,932.0 L1288.6,932.2 L1289.6,932.5 L1290.6,932.7 L1291.6,932.9 L1292.6,933.1 L1293.6,933.4 L1294.6,933.6 L1295.6,933.8 L1296.6,934.0 L1297.6,934.3 L1298.6,934.5 L1299.6,934.7 L1300.6,934.9 L1301.5,935.1 L1302.5,935.4 L1303.5,935.6 L1304.5,935.8 L1305.5,936.0 L1306.5,936.2 L1307.5,936.5 L1308.5,936.7 L1309.5,936.9 L1310.5,937.1 L1311.5,937.3 L1312.5,937.5 L1313.5,937.8 L1314.5,938.0 L1315.5,938.2 L1316.5,938.4 L1317.5,938.6 L1318.5,938.8 L1319.5,939.0 L1320.5,939.2 L1321.5,939.5 L1322.5,939.7 L1323.5,939.9 L1324.5,940.1 L1325.5,940.3 L1326.5,940.5 L1327.5,940.7 L1328.5,940.9 L1329.5,941.1 L1330.5,941.3 L1331.5,941.5 L1332.5,941.7 L1333.5,941.9 L1334.5,942.1 L1335.5,942.3 L1336.5,942.5 L1337.5,942.7 L1338.5,942.9 L1339.5,943.1 L1340.5,943.3 L1341.5,943.5 L1342.5,943.7 L1343.5,943.9 L1344.5,944.0 L1345.5,944.2 L1346.5,944.4 L1347.5,944.6 L1348.4,944.8 L1349.4,945.0 L1350.4,945.2 L1351.4,945.4 L1352.4,945.5 L1353.4,945.7 L1354.4,945.9 L1355.4,946.1 L1356.4,946.3 L1357.4,946.4 L1358.4,946.6 L1359.4,946.8 L1360.4,947.0 L1361.4,947.1 L1362.4,947.3 L1363.4,947.5 L1364.4,947.7 L1365.4,947.8 L1366.4,948.0 L1367.4,948.2 L1368.4,948.3 L1369.4,948.5 L1370.4,948.7 L1371.4,948.8 L1372.4,949.0 L1373.4,949.1 L1374.4,949.3 L1375.4,949.5 L1376.4,949.6 L1377.4,949.8 L1378.4,949.9 L1379.4,950.1 L1380.4,950.2 L1381.4,950.4 L1382.4,950.6 L1383.4,950.7 L1384.4,950.9 L1385.4,951.0 L1386.4,951.2 L1387.4,951.3 L1388.4,951.4 L1389.4,951.6 L1390.4,951.7 L1391.4,951.9 L1392.4,952.0 L1393.4,952.2 L1394.3,952.3 L1395.3,952.4 L1396.3,952.6 L1397.3,952.7 L1398.3,952.9 L1399.3,953.0 L1400.3,953.1 L1401.3,953.3 L1402.3,953.4 L1403.3,953.5 L1404.3,953.7 L1405.3,953.8 L1406.3,953.9 L1407.3,954.0 L1408.3,954.2 L1409.3,954.3 L1410.3,954.4 L1411.3,954.5 L1412.3,954.7 L1413.3,954.8 L1414.3,954.9 L1415.3,955.0 L1416.3,955.2 L1417.3,955.3 L1418.3,955.4 L1419.3,955.5 L1420.3,955.6 L1421.3,955.7 L1422.3,955.8 L1423.3,956.0 L1424.3,956.1 L1425.3,956.2 L1426.3,956.3 L1427.3,956.4 L1428.3,956.5 L1429.3,956.6 L1430.3,956.7 L1431.3,956.8 L1432.3,956.9 L1433.3,957.0 L1434.3,957.1 L1435.3,957.2 L1436.3,957.3 L1437.3,957.4 L1438.3,957.5 L1439.3,957.6 L1440.3,957.7 L1441.2,957.8 L1442.2,957.9 L1443.2,958.0 L1444.2,958.1 L1445.2,958.2 L1446.2,958.3 L1447.2,958.4 L1448.2,958.5 L1449.2,958.6 L1450.2,958.7 L1451.2,958.8 L1452.2,958.9 L1453.2,958.9 L1454.2,959.0 L1455.2,959.1 L1456.2,959.2 L1457.2,959.3 L1458.2,959.4 L1459.2,959.5 L1460.2,959.5 L1461.2,959.6 L1462.2,959.7 L1463.2,959.8 L1464.2,959.9 L1465.2,959.9 L1466.2,960.0 L1467.2,960.1 L1468.2,960.2 L1469.2,960.2 L1470.2,960.3 L1471.2,960.4 L1472.2,960.5 L1473.2,960.5 L1474.2,960.6 L1475.2,960.7 L1476.2,960.8 L1477.2,960.8 L1478.2,960.9 L1479.2,961.0 L1480.2,961.0 L1481.2,961.1 L1482.2,961.2 L1483.2,961.2 L1484.2,961.3 L1485.2,961.4 L1486.2,961.4 L1487.2,961.5 L1488.1,961.6 L1489.1,961.6 L1490.1,961.7 L1491.1,961.7 L1492.1,961.8 L1493.1,961.9 L1494.1,961.9 L1495.1,962.0 L1496.1,962.0 L1497.1,962.1 L1498.1,962.2 L1499.1,962.2 L1500.1,962.3 L1501.1,962.3 L1502.1,962.4 L1503.1,962.4 L1504.1,962.5 L1505.1,962.5 L1506.1,962.6 L1507.1,962.6 L1508.1,962.7 L1509.1,962.7 L1510.1,962.8 L1511.1,962.8 L1512.1,962.9 L1513.1,962.9 L1514.1,963.0 L1515.1,963.0 L1516.1,963.1 L1517.1,963.1 L1518.1,963.2 L1519.1,963.2 L1520.1,963.3 L1521.1,963.3 L1522.1,963.4 L1523.1,963.4 L1524.1,963.5 L1525.1,963.5 L1526.1,963.5 L1527.1,963.6 L1528.1,963.6 L1529.1,963.7 L1530.1,963.7 L1531.1,963.8 L1532.1,963.8 L1533.1,963.8 L1534.0,963.9 L1535.0,963.9 L1536.0,963.9 L1537.0,964.0 L1538.0,964.0 L1539.0,964.1 L1540.0,964.1 L1541.0,964.1 L1542.0,964.2 L1543.0,964.2 L1544.0,964.2 L1545.0,964.3 L1546.0,964.3 L1547.0,964.3 L1548.0,964.4 L1549.0,964.4 L1550.0,964.4 L1551.0,964.5 L1552.0,964.5 L1553.0,964.5 L1554.0,964.6 L1555.0,964.6 L1556.0,964.6 L1557.0,964.7" fill="none" stroke="#1010ff" stroke-width="5" stroke-linejoin="round" stroke-linecap="round"/>
<path d="M161.0,935.5 L162.0,935.5 L163.0,935.5 L164.0,935.5 L165.0,935.5 L166.0,935.5 L167.0,935.5 L168.0,935.5 L169.0,935.5 L170.0,935.5 L171.0,935.5 L172.0,935.5 L173.0,935.5 L174.0,935.5 L175.0,935.5 L176.0,935.5 L177.0,935.5 L178.0,935.5 L179.0,935.6 L180.0,935.6 L181.0,935.6 L182.0,935.6 L183.0,935.6 L184.0,935.6 L184.9,935.6 L185.9,935.6 L186.9,935.6 L187.9,935.6 L188.9,935.6 L189.9,935.6 L190.9,935.6 L191.9,935.6 L192.9,935.6 L193.9,935.6 L194.9,935.6 L195.9,935.6 L196.9,935.6 L197.9,935.6 L198.9,935.6 L199.9,935.6 L200.9,935.6 L201.9,935.6 L202.9,935.6 L203.9,935.6 L204.9,935.6 L205.9,935.6 L206.9,935.6 L207.9,935.6 L208.9,935.6 L209.9,935.6 L210.9,935.6 L211.9,935.6 L212.9,935.6 L213.9,935.6 L214.9,935.6 L215.9,935.6 L216.9,935.6 L217.9,935.6 L218.9,935.6 L219.9,935.6 L220.9,935.6 L221.9,935.6 L222.9,935.6 L223.9,935.6 L224.9,935.6 L225.9,935.6 L226.9,935.6 L227.9,935.6 L228.9,935.6 L229.9,935.6 L230.8,935.6 L231.8,935.6 L232.8,935.6 L233.8,935.6 L234.8,935.6 L235.8,935.6 L236.8,935.6 L237.8,935.6 L238.8,935.6 L239.8,935.6 L240.8,935.6 L241.8,935.6 L242.8,935.6 L243.8,935.6 L244.8,935.6 L245.8,935.6 L246.8,935.6 L247.8,935.6 L248.8,935.6 L249.8,935.6 L250.8,935.6 L251.8,935.6 L252.8,935.6 L253.8,935.6 L254.8,935.6 L255.8,935.6 L256.8,935.6 L257.8,935.6 L258.8,935.6 L259.8,935.6 L260.8,935.6 L261.8,935.6 L262.8,935.7 L263.8,935.7 L264.8,935.7 L265.8,935.7 L266.8,935.7 L267.8,935.7 L268.8,935.7 L269.8,935.7 L270.8,935.7 L271.8,935.7 L272.8,935.7 L273.8,935.7 L274.8,935.7 L275.8,935.7 L276.8,935.7 L277.7,935.7 L278.7,935.7 L279.7,935.7 L280.7,935.7 L281.7,935.7 L282.7,935.7 L283.7,935.7 L284.7,935.7 L285.7,935.7 L286.7,935.7 L287.7,935.7 L288.7,935.7 L289.7,935.7 L290.7,935.7 L291.7,935.7 L292.7,935.7 L293.7,935.7 L294.7,935.7 L295.7,935.7 L296.7,935.7 L297.7,935.7 L298.7,935.7 L299.7,935.7 L300.7,935.7 L301.7,935.7 L302.7,935.7 L303.7,935.7 L304.7,935.7 L305.7,935.8 L306.7,935.8 L307.7,935.8 L308.7,935.8 L309.7,935.8 L310.7,935.8 L311.7,935.8 L312.7,935.8 L313.7,935.8 L314.7,935.8 L315.7,935.8 L316.7,935.8 L317.7,935.8 L318.7,935.8 L319.7,935.8 L320.7,935.8 L321.7,935.8 L322.7,935.8 L323.7,935.8 L324.6,935.8 L325.6,935.8 L326.6,935.8 L327.6,935.8 L328.6,935.8 L329.6,935.8 L330.6,935.8 L331.6,935.8 L332.6,935.9 L333.6,935.9 L334.6,935.9 L335.6,935.9 L336.6,935.9 L337.6,935.9 L338.6,935.9 L339.6,935.9 L340.6,935.9 L341.6,935.9 L342.6,935.9 L343.6,935.9 L344.6,935.9 L345.6,935.9 L346.6,935.9 L347.6,935.9 L348.6,935.9 L349.6,935.9 L350.6,936.0 L351.6,936.0 L352.6,936.0 L353.6,936.0 L354.6,936.0 L355.6,936.0 L356.6,936.0 L357.6,936.0 L358.6,936.0 L359.6,936.0 L360.6,936.0 L361.6,936.0 L362.6,936.0 L363.6,936.0 L364.6,936.0 L365.6,936.1 L366.6,936.1 L367.6,936.1 L368.6,936.1 L369.6,936.1 L370.5,936.1 L371.5,936.1 L372.5,936.1 L373.5,936.1 L374.5,936.1 L375.5,936.1 L376.5,936.2 L377.5,936.2 L378.5,936.2 L379.5,936.2 L380.5,936.2 L381.5,936.2 L382.5,936.2 L383.5,936.2 L384.5,936.2 L385.5,936.2 L386.5,936.3 L387.5,936.3 L388.5,936.3 L389.5,936.3 L390.5,936.3 L391.5,936.3 L392.5,936.3 L393.5,936.3 L394.5,936.3 L395.5,936.4 L396.5,936.4 L397.5,936.4 L398.5,936.4 L399.5,936.4 L400.5,936.4 L401.5,936.4 L402.5,936.4 L403.5,936.5 L404.5,936.5 L405.5,936.5 L406.5,936.5 L407.5,936.5 L408.5,936.5 L409.5,936.6 L410.5,936.6 L411.5,936.6 L412.5,936.6 L413.5,936.6 L414.5,936.6 L415.5,936.6 L416.5,936.7 L417.4,936.7 L418.4,936.7 L419.4,936.7 L420.4,936.7 L421.4,936.7 L422.4,936.8 L423.4,936.8 L424.4,936.8 L425.4,936.8 L426.4,936.8 L427.4,936.9 L428.4,936.9 L429.4,936.9 L430.4,936.9 L431.4,936.9 L432.4,937.0 L433.4,937.0 L434.4,937.0 L435.4,937.0 L436.4,937.0 L437.4,937.1 L438.4,937.1 L439.4,937.1 L440.4,937.1 L441.4,937.2 L442.4,937.2 L443.4,937.2 L444.4,937.2 L445.4,937.3 L446.4,937.3 L447.4,937.3 L448.4,937.3 L449.4,937.4 L450.4,937.4 L451.4,937.4 L452.4,937.4 L453.4,937.5 L454.4,937.5 L455.4,937.5 L456.4,937.6 L457.4,937.6 L458.4,937.6 L459.4,937.6 L460.4,937.7 L461.4,937.7 L462.4,937.7 L463.4,937.8 L464.3,937.8 L465.3,937.8 L466.3,937.9 L467.3,937.9 L468.3,937.9 L469.3,937.9 L470.3,938.0 L471.3,938.0 L472.3,938.0 L473.3,938.1 L474.3,938.1 L475.3,938.2 L476.3,938.2 L477.3,938.2 L478.3,938.3 L479.3,938.3 L480.3,938.3 L481.3,938.4 L482.3,938.4 L483.3,938.4 L484.3,938.5 L485.3,938.5 L486.3,938.6 L487.3,938.6 L488.3,938.6 L489.3,938.7 L490.3,938.7 L491.3,938.8 L492.3,938.8 L493.3,938.8 L494.3,938.9 L495.3,938.9 L496.3,939.0 L497.3,939.0 L498.3,939.1 L499.3,939.1 L500.3,939.1 L501.3,939.2 L502.3,939.2 L503.3,939.3 L504.3,939.3 L505.3,939.4 L506.3,939.4 L507.3,939.5 L508.3,939.5 L509.3,939.6 L510.2,939.6 L511.2,939.7 L512.2,939.7 L513.2,939.8 L514.2,939.8 L515.2,939.9 L516.2,939.9 L517.2,940.0 L518.2,940.0 L519.2,940.1 L520.2,940.1 L521.2,940.2 L522.2,940.2 L523.2,940.3 L524.2,940.3 L525.2,940.4 L526.2,940.4 L527.2,940.5 L528.2,940.6 L529.2,940.6 L530.2,940.7 L531.2,940.7 L532.2,940.8 L533.2,940.8 L534.2,940.9 L535.2,941.0 L536.2,941.0 L537.2,941.1 L538.2,941.1 L539.2,941.2 L540.2,941.3 L541.2,941.3 L542.2,941.4 L543.2,941.5 L544.2,941.5 L545.2,941.6 L546.2,941.6 L547.2,941.7 L548.2,941.8 L549.2,941.8 L550.2,941.9 L551.2,942.0 L552.2,942.0 L553.2,942.1 L554.2,942.2 L555.2,942.2 L556.2,942.3 L557.1,942.4 L558.1,942.4 L559.1,942.5 L560.1,942.6 L561.1,942.6 L562.1,942.7 L563.1,942.8 L564.1,942.8 L565.1,942.9 L566.1,943.0 L567.1,943.1 L568.1,943.1 L569.1,943.2 L570.1,943.3 L571.1,943.3 L572.1,943.4 L573.1,943.5 L574.1,943.6 L575.1,943.6 L576.1,943.7 L577.1,943.8 L578.1,943.9 L579.1,943.9 L580.1,944.0 L581.1,944.1 L582.1,944.2 L583.1,944.2 L584.1,944.3 L585.1,944.4 L586.1,944.5 L587.1,944.5 L588.1,944.6 L589.1,944.7 L590.1,944.8 L591.1,944.9 L592.1,944.9 L593.1,945.0 L594.1,945.1 L595.1,945.2 L596.1,945.2 L597.1,945.3 L598.1,945.4 L599.1,945.5 L600.1,945.6 L601.1,945.6 L602.1,945.7 L603.1,945.8 L604.0,945.9 L605.0,946.0 L606.0,946.0 L607.0,946.1 L608.0,946.2 L609.0,946.3 L610.0,946.4 L611.0,946.4 L612.0,946.5 L613.0,946.6 L614.0,946.7 L615.0,946.8 L616.0,946.9 L617.0,946.9 L618.0,947.0 L619.0,947.1 L620.0,947.2 L621.0,947.3 L622.0,947.3 L623.0,947.4 L624.0,947.5 L625.0,947.6 L626.0,947.7 L627.0,947.8 L628.0,947.8 L629.0,947.9 L630.0,948.0 L631.0,948.1 L632.0,948.2 L633.0,948.3 L634.0,948.3 L635.0,948.4 L636.0,948.5 L637.0,948.6 L638.0,948.7 L639.0,948.8 L640.0,948.8 L641.0,948.9 L642.0,949.0 L643.0,949.1 L644.0,949.2 L645.0,949.2 L646.0,949.3 L647.0,949.4 L648.0,949.5 L649.0,949.6 L649.9,949.7 L650.9,949.7 L651.9,949.8 L652.9,949.9 L653.9,950.0 L654.9,950.1 L655.9,950.1 L656.9,950.2 L657.9,950.3 L658.9,950.4 L659.9,950.5 L660.9,950.5 L661.9,950.6 L662.9,950.7 L663.9,950.8 L664.9,950.9 L665.9,950.9 L666.9,951.0 L667.9,951.1 L668.9,951.2 L669.9,951.2 L670.9,951.3 L671.9,951.4 L672.9,951.5 L673.9,951.6 L674.9,951.6 L675.9,951.7 L676.9,951.8 L677.9,951.9 L678.9,951.9 L679.9,952.0 L680.9,952.1 L681.9,952.2 L682.9,952.2 L683.9,952.3 L684.9,952.4 L685.9,952.5 L686.9,952.5 L687.9,952.6 L688.9,952.7 L689.9,952.8 L690.9,952.8 L691.9,952.9 L692.9,953.0 L693.9,953.0 L694.9,953.1 L695.9,953.2 L696.8,953.2 L697.8,953.3 L698.8,953.4 L699.8,953.5 L700.8,953.5 L701.8,953.6 L702.8,953.7 L703.8,953.7 L704.8,953.8 L705.8,953.9 L706.8,953.9 L707.8,954.0 L708.8,954.1 L709.8,954.1 L710.8,954.2 L711.8,954.3 L712.8,954.3 L713.8,954.4 L714.8,954.5 L715.8,954.5 L716.8,954.6 L717.8,954.6 L718.8,954.7 L719.8,954.8 L720.8,954.8 L721.8,954.9 L722.8,954.9 L723.8,955.0 L724.8,955.1 L725.8,955.1 L726.8,955.2 L727.8,955.2 L728.8,955.3 L729.8,955.4 L730.8,955.4 L731.8,955.5 L732.8,955.5 L733.8,955.6 L734.8,955.6 L735.8,955.7 L736.8,955.8 L737.8,955.8 L738.8,955.9 L739.8,955.9 L740.8,956.0 L741.8,956.0 L742.7,956.1 L743.7,956.1 L744.7,956.2 L745.7,956.2 L746.7,956.3 L747.7,956.3 L748.7,956.4 L749.7,956.4 L750.7,956.5 L751.7,956.5 L752.7,956.6 L753.7,956.6 L754.7,956.7 L755.7,956.7 L756.7,956.8 L757.7,956.8 L758.7,956.9 L759.7,956.9 L760.7,956.9 L761.7,957.0 L762.7,957.0 L763.7,957.1 L764.7,957.1 L765.7,957.2 L766.7,957.2 L767.7,957.2 L768.7,957.3 L769.7,957.3 L770.7,957.4 L771.7,957.4 L772.7,957.5 L773.7,957.5 L774.7,957.5 L775.7,957.6 L776.7,957.6 L777.7,957.6 L778.7,957.7 L779.7,957.7 L780.7,957.8 L781.7,957.8 L782.7,957.8 L783.7,957.9 L784.7,957.9 L785.7,957.9 L786.7,958.0 L787.7,958.0 L788.7,958.0 L789.6,958.1 L790.6,958.1 L791.6,958.1 L792.6,958.2 L793.6,958.2 L794.6,958.2 L795.6,958.3 L796.6,958.3 L797.6,958.3 L798.6,958.4 L799.6,958.4 L800.6,958.4 L801.6,958.5 L802.6,958.5 L803.6,958.5 L804.6,958.5 L805.6,958.6 L806.6,958.6 L807.6,958.6 L808.6,958.7 L809.6,958.7 L810.6,958.7 L811.6,958.7 L812.6,958.8 L813.6,958.8 L814.6,958.8 L815.6,958.8 L816.6,958.9 L817.6,958.9 L818.6,958.9 L819.6,958.9 L820.6,959.0 L821.6,959.0 L822.6,959.0 L823.6,959.0 L824.6,959.1 L825.6,959.1 L826.6,959.1 L827.6,959.1 L828.6,959.1 L829.6,959.2 L830.6,959.2 L831.6,959.2 L832.6,959.2 L833.6,959.2 L834.6,959.3 L835.6,959.3 L836.5,959.3 L837.5,959.3 L838.5,959.3 L839.5,959.4 L840.5,959.4 L841.5,959.4 L842.5,959.4 L843.5,959.4 L844.5,959.4 L845.5,959.5 L846.5,959.5 L847.5,959.5 L848.5,959.5 L849.5,959.5 L850.5,959.6 L851.5,959.6 L852.5,959.6 L853.5,959.6 L854.5,959.6 L855.5,959.6 L856.5,959.6 L857.5,959.7 L858.5,959.7 L859.5,959.7 L860.5,959.7 L861.5,959.7 L862.5,959.7 L863.5,959.7 L864.5,959.8 L865.5,959.8 L866.5,959.8 L867.5,959.8 L868.5,959.8 L869.5,959.8 L870.5,959.8 L871.5,959.8 L872.5,959.9 L873.5,959.9 L874.5,959.9 L875.5,959.9 L876.5,959.9 L877.5,959.9 L878.5,959.9 L879.5,959.9 L880.5,959.9 L881.5,960.0 L882.4,960.0 L883.4,960.0 L884.4,960.0 L885.4,960.0 L886.4,960.0 L887.4,960.0 L888.4,960.0 L889.4,960.0 L890.4,960.0 L891.4,960.1 L892.4,960.1 L893.4,960.1 L894.4,960.1 L895.4,960.1 L896.4,960.1 L897.4,960.1 L898.4,960.1 L899.4,960.1 L900.4,960.1 L901.4,960.1 L902.4,960.2 L903.4,960.2 L904.4,960.2 L905.4,960.2 L906.4,960.2 L907.4,960.2 L908.4,960.2 L909.4,960.2 L910.4,960.2 L911.4,960.2 L912.4,960.2 L913.4,960.2 L914.4,960.2 L915.4,960.3 L916.4,960.3 L917.4,960.3 L918.4,960.3 L919.4,960.3 L920.4,960.3 L921.4,960.3 L922.4,960.3 L923.4,960.3 L924.4,960.3 L925.4,960.3 L926.4,960.3 L927.4,960.3 L928.4,960.3 L929.3,960.3 L930.3,960.3 L931.3,960.3 L932.3,960.4 L933.3,960.4 L934.3,960.4 L935.3,960.4 L936.3,960.4 L937.3,960.4 L938.3,960.4 L939.3,960.4 L940.3,960.4 L941.3,960.4 L942.3,960.4 L943.3,960.4 L944.3,960.4 L945.3,960.4 L946.3,960.4 L947.3,960.4 L948.3,960.4 L949.3,960.4 L950.3,960.4 L951.3,960.4 L952.3,960.4 L953.3,960.4 L954.3,960.5 L955.3,960.5 L956.3,960.5 L957.3,960.5 L958.3,960.5 L959.3,960.5 L960.3,960.5 L961.3,960.5 L962.3,960.5 L963.3,960.5 L964.3,960.5 L965.3,960.5 L966.3,960.5 L967.3,960.5 L968.3,960.5 L969.3,960.5 L970.3,960.5 L971.3,960.5 L972.3,960.5 L973.3,960.5 L974.3,960.5 L975.3,960.5 L976.2,960.5 L977.2,960.5 L978.2,960.5 L979.2,960.5 L980.2,960.5 L981.2,960.5 L982.2,960.5 L983.2,960.5 L984.2,960.5 L985.2,960.5 L986.2,960.5 L987.2,960.5 L988.2,960.5 L989.2,960.5 L990.2,960.5 L991.2,960.5 L992.2,960.5 L993.2,960.5 L994.2,960.5 L995.2,960.5 L996.2,960.5 L997.2,960.5 L998.2,960.5 L999.2,960.5 L1000.2,960.5 L1001.2,960.5 L1002.2,960.4 L1003.2,960.4 L1004.2,960.4 L1005.2,960.4 L1006.2,960.4 L1007.2,960.4 L1008.2,960.4 L1009.2,960.4 L1010.2,960.4 L1011.2,960.4 L1012.2,960.4 L1013.2,960.3 L1014.2,960.3 L1015.2,960.3 L1016.2,960.3 L1017.2,960.3 L1018.2,960.3 L1019.2,960.2 L1020.2,960.2 L1021.2,960.2 L1022.1,960.2 L1023.1,960.2 L1024.1,960.1 L1025.1,960.1 L1026.1,960.1 L1027.1,960.1 L1028.1,960.0 L1029.1,960.0 L1030.1,960.0 L1031.1,959.9 L1032.1,959.9 L1033.1,959.9 L1034.1,959.8 L1035.1,959.8 L1036.1,959.7 L1037.1,959.7 L1038.1,959.7 L1039.1,959.6 L1040.1,959.6 L1041.1,959.5 L1042.1,959.5 L1043.1,959.4 L1044.1,959.3 L1045.1,959.3 L1046.1,959.2 L1047.1,959.2 L1048.1,959.1 L1049.1,959.0 L1050.1,958.9 L1051.1,958.9 L1052.1,958.8 L1053.1,958.7 L1054.1,958.6 L1055.1,958.5 L1056.1,958.4 L1057.1,958.3 L1058.1,958.2 L1059.1,958.1 L1060.1,958.0 L1061.1,957.9 L1062.1,957.8 L1063.1,957.7 L1064.1,957.5 L1065.1,957.4 L1066.1,957.3 L1067.1,957.1 L1068.1,957.0 L1069.0,956.8 L1070.0,956.7 L1071.0,956.5 L1072.0,956.3 L1073.0,956.1 L1074.0,956.0 L1075.0,955.8 L1076.0,955.6 L1077.0,955.4 L1078.0,955.2 L1079.0,955.0 L1080.0,954.7 L1081.0,954.5 L1082.0,954.3 L1083.0,954.0 L1084.0,953.8 L1085.0,953.5 L1086.0,953.2 L1087.0,953.0 L1088.0,952.7 L1089.0,952.4 L1090.0,952.1 L1091.0,951.8 L1092.0,951.4 L1093.0,951.1 L1094.0,950.8 L1095.0,950.4 L1096.0,950.0 L1097.0,949.7 L1098.0,949.3 L1099.0,948.9 L1100.0,948.5 L1101.0,948.0 L1102.0,947.6 L1103.0,947.2 L1104.0,946.7 L1105.0,946.2 L1106.0,945.7 L1107.0,945.2 L1108.0,944.7 L1109.0,944.2 L1110.0,943.7 L1111.0,943.1 L1112.0,942.5 L1113.0,941.9 L1114.0,941.3 L1114.9,940.7 L1115.9,940.1 L1116.9,939.4 L1117.9,938.8 L1118.9,938.1 L1119.9,937.4 L1120.9,936.7 L1121.9,935.9 L1122.9,935.2 L1123.9,934.4 L1124.9,933.6 L1125.9,932.8 L1126.9,932.0 L1127.9,931.2 L1128.9,930.3 L1129.9,929.4 L1130.9,928.5 L1131.9,927.6 L1132.9,926.7 L1133.9,925.7 L1134.9,924.8 L1135.9,923.8 L1136.9,922.7 L1137.9,921.7 L1138.9,920.6 L1139.9,919.6 L1140.9,918.4 L1141.9,917.3 L1142.9,916.2 L1143.9,915.0 L1144.9,913.8 L1145.9,912.6 L1146.9,911.4 L1147.9,910.1 L1148.9,908.8 L1149.9,907.5 L1150.9,906.2 L1151.9,904.9 L1152.9,903.5 L1153.9,902.1 L1154.9,900.7 L1155.9,899.3 L1156.9,897.8 L1157.9,896.3 L1158.9,894.8 L1159.9,893.3 L1160.9,891.7 L1161.8,890.2 L1162.8,888.6 L1163.8,887.0 L1164.8,885.3 L1165.8,883.7 L1166.8,882.0 L1167.8,880.3 L1168.8,878.5 L1169.8,876.8 L1170.8,875.0 L1171.8,873.2 L1172.8,871.4 L1173.8,869.6 L1174.8,867.7 L1175.8,865.9 L1176.8,864.0 L1177.8,862.1 L1178.8,860.1 L1179.8,858.2 L1180.8,856.2 L1181.8,854.2 L1182.8,852.2 L1183.8,850.2 L1184.8,848.2 L1185.8,846.1 L1186.8,844.1 L1187.8,842.0 L1188.8,839.9 L1189.8,837.8 L1190.8,835.7 L1191.8,833.5 L1192.8,831.4 L1193.8,829.2 L1194.8,827.0 L1195.8,824.8 L1196.8,822.7 L1197.8,820.4 L1198.8,818.2 L1199.8,816.0 L1200.8,813.8 L1201.8,811.6 L1202.8,809.3 L1203.8,807.1 L1204.8,804.8 L1205.8,802.6 L1206.8,800.3 L1207.8,798.1 L1208.7,795.8 L1209.7,793.5 L1210.7,791.3 L1211.7,789.0 L1212.7,786.8 L1213.7,784.5 L1214.7,782.3 L1215.7,780.0 L1216.7,777.8 L1217.7,775.6 L1218.7,773.4 L1219.7,771.2 L1220.7,769.0 L1221.7,766.8 L1222.7,764.6 L1223.7,762.4 L1224.7,760.3 L1225.7,758.1 L1226.7,756.0 L1227.7,753.9 L1228.7,751.8 L1229.7,749.7 L1230.7,747.7 L1231.7,745.6 L1232.7,743.6 L1233.7,741.6 L1234.7,739.7 L1235.7,737.7 L1236.7,735.8 L1237.7,733.9 L1238.7,732.1 L1239.7,730.2 L1240.7,728.4 L1241.7,726.7 L1242.7,724.9 L1243.7,723.2 L1244.7,721.5 L1245.7,719.9 L1246.7,718.3 L1247.7,716.7 L1248.7,715.1 L1249.7,713.6 L1250.7,712.2 L1251.7,710.7 L1252.7,709.3 L1253.7,708.0 L1254.6,706.7 L1255.6,705.4 L1256.6,704.2 L1257.6,703.0 L1258.6,701.9 L1259.6,700.8 L1260.6,699.7 L1261.6,698.7 L1262.6,697.8 L1263.6,696.9 L1264.6,696.0 L1265.6,695.2 L1266.6,694.4 L1267.6,693.7 L1268.6,693.0 L1269.6,692.4 L1270.6,691.8 L1271.6,691.3 L1272.6,690.8 L1273.6,690.4 L1274.6,690.1 L1275.6,689.7 L1276.6,689.5 L1277.6,689.3 L1278.6,689.1 L1279.6,689.0 L1280.6,688.9 L1281.6,688.9 L1282.6,689.0 L1283.6,689.1 L1284.6,689.2 L1285.6,689.4 L1286.6,689.7 L1287.6,690.0 L1288.6,690.4 L1289.6,690.8 L1290.6,691.2 L1291.6,691.7 L1292.6,692.3 L1293.6,692.9 L1294.6,693.6 L1295.6,694.3 L1296.6,695.0 L1297.6,695.9 L1298.6,696.7 L1299.6,697.6 L1300.6,698.6 L1301.5,699.6 L1302.5,700.6 L1303.5,701.7 L1304.5,702.9 L1305.5,704.0 L1306.5,705.3 L1307.5,706.5 L1308.5,707.8 L1309.5,709.2 L1310.5,710.6 L1311.5,712.0 L1312.5,713.5 L1313.5,715.0 L1314.5,716.5 L1315.5,718.1 L1316.5,719.7 L1317.5,721.4 L1318.5,723.1 L1319.5,724.8 L1320.5,726.6 L1321.5,728.4 L1322.5,730.2 L1323.5,732.0 L1324.5,733.9 L1325.5,735.8 L1326.5,737.7 L1327.5,739.7 L1328.5,741.7 L1329.5,743.7 L1330.5,745.7 L1331.5,747.8 L1332.5,749.9 L1333.5,751.9 L1334.5,754.1 L1335.5,756.2 L1336.5,758.3 L1337.5,760.5 L1338.5,762.7 L1339.5,764.9 L1340.5,767.1 L1341.5,769.3 L1342.5,771.5 L1343.5,773.8 L1344.5,776.0 L1345.5,778.3 L1346.5,780.6 L1347.5,782.8 L1348.4,785.1 L1349.4,787.4 L1350.4,789.7 L1351.4,792.0 L1352.4,794.3 L1353.4,796.6 L1354.4,798.9 L1355.4,801.2 L1356.4,803.5 L1357.4,805.8 L1358.4,808.1 L1359.4,810.3 L1360.4,812.6 L1361.4,814.9 L1362.4,817.2 L1363.4,819.4 L1364.4,821.7 L1365.4,824.0 L1366.4,826.2 L1367.4,828.4 L1368.4,830.6 L1369.4,832.9 L1370.4,835.1 L1371.4,837.2 L1372.4,839.4 L1373.4,841.6 L1374.4,843.7 L1375.4,845.9 L1376.4,848.0 L1377.4,850.1 L1378.4,852.2 L1379.4,854.2 L1380.4,856.3 L1381.4,858.3 L1382.4,860.3 L1383.4,862.3 L1384.4,864.3 L1385.4,866.3 L1386.4,868.2 L1387.4,870.1 L1388.4,872.1 L1389.4,873.9 L1390.4,875.8 L1391.4,877.6 L1392.4,879.5 L1393.4,881.3 L1394.3,883.0 L1395.3,884.8 L1396.3,886.5 L1397.3,888.2 L1398.3,889.9 L1399.3,891.6 L1400.3,893.2 L1401.3,894.9 L1402.3,896.5 L1403.3,898.0 L1404.3,899.6 L1405.3,901.1 L1406.3,902.6 L1407.3,904.1 L1408.3,905.6 L1409.3,907.0 L1410.3,908.5 L1411.3,909.8 L1412.3,911.2 L1413.3,912.6 L1414.3,913.9 L1415.3,915.2 L1416.3,916.5 L1417.3,917.7 L1418.3,919.0 L1419.3,920.2 L1420.3,921.4 L1421.3,922.6 L1422.3,923.7 L1423.3,924.8 L1424.3,925.9 L1425.3,927.0 L1426.3,928.1 L1427.3,929.1 L1428.3,930.1 L1429.3,931.1 L1430.3,932.1 L1431.3,933.1 L1432.3,934.0 L1433.3,934.9 L1434.3,935.8 L1435.3,936.7 L1436.3,937.6 L1437.3,938.4 L1438.3,939.2 L1439.3,940.0 L1440.3,940.8 L1441.2,941.6 L1442.2,942.3 L1443.2,943.1 L1444.2,943.8 L1445.2,944.5 L1446.2,945.2 L1447.2,945.8 L1448.2,946.5 L1449.2,947.1 L1450.2,947.7 L1451.2,948.3 L1452.2,948.9 L1453.2,949.5 L1454.2,950.1 L1455.2,950.6 L1456.2,951.1 L1457.2,951.6 L1458.2,952.1 L1459.2,952.6 L1460.2,953.1 L1461.2,953.6 L1462.2,954.0 L1463.2,954.5 L1464.2,954.9 L1465.2,955.3 L1466.2,955.7 L1467.2,956.1 L1468.2,956.5 L1469.2,956.8 L1470.2,957.2 L1471.2,957.5 L1472.2,957.9 L1473.2,958.2 L1474.2,958.5 L1475.2,958.8 L1476.2,959.1 L1477.2,959.4 L1478.2,959.7 L1479.2,960.0 L1480.2,960.2 L1481.2,960.5 L1482.2,960.7 L1483.2,961.0 L1484.2,961.2 L1485.2,961.4 L1486.2,961.7 L1487.2,961.9 L1488.1,962.1 L1489.1,962.3 L1490.1,962.5 L1491.1,962.7 L1492.1,962.8 L1493.1,963.0 L1494.1,963.2 L1495.1,963.3 L1496.1,963.5 L1497.1,963.6 L1498.1,963.8 L1499.1,963.9 L1500.1,964.1 L1501.1,964.2 L1502.1,964.3 L1503.1,964.5 L1504.1,964.6 L1505.1,964.7 L1506.1,964.8 L1507.1,964.9 L1508.1,965.0 L1509.1,965.1 L1510.1,965.2 L1511.1,965.3 L1512.1,965.4 L1513.1,965.5 L1514.1,965.6 L1515.1,965.6 L1516.1,965.7 L1517.1,965.8 L1518.1,965.9 L1519.1,965.9 L1520.1,966.0 L1521.1,966.1 L1522.1,966.1 L1523.1,966.2 L1524.1,966.2 L1525.1,966.3 L1526.1,966.3 L1527.1,966.4 L1528.1,966.4 L1529.1,966.5 L1530.1,966.5 L1531.1,966.6 L1532.1,966.6 L1533.1,966.7 L1534.0,966.7 L1535.0,966.7 L1536.0,966.8 L1537.0,966.8 L1538.0,966.8 L1539.0,966.9 L1540.0,966.9 L1541.0,966.9 L1542.0,967.0 L1543.0,967.0 L1544.0,967.0 L1545.0,967.0 L1546.0,967.1 L1547.0,967.1 L1548.0,967.1 L1549.0,967.1 L1550.0,967.2 L1551.0,967.2 L1552.0,967.2 L1553.0,967.2 L1554.0,967.2 L1555.0,967.3 L1556.0,967.3 L1557.0,967.3" fill="none" stroke="#00ee00" stroke-width="5" stroke-linejoin="round" stroke-linecap="round"/>
<path d="M161.0,927.2 L162.0,927.1 L163.0,927.1 L164.0,927.1 L165.0,927.0 L166.0,927.0 L167.0,926.9 L168.0,926.9 L169.0,926.8 L170.0,926.8 L171.0,926.8 L172.0,926.7 L173.0,926.7 L174.0,926.6 L175.0,926.6 L176.0,926.5 L177.0,926.5 L178.0,926.4 L179.0,926.4 L180.0,926.3 L181.0,926.3 L182.0,926.2 L183.0,926.2 L184.0,926.1 L184.9,926.0 L185.9,926.0 L186.9,925.9 L187.9,925.9 L188.9,925.8 L189.9,925.8 L190.9,925.7 L191.9,925.6 L192.9,925.6 L193.9,925.5 L194.9,925.5 L195.9,925.4 L196.9,925.3 L197.9,925.3 L198.9,925.2 L199.9,925.1 L200.9,925.1 L201.9,925.0 L202.9,924.9 L203.9,924.8 L204.9,924.8 L205.9,924.7 L206.9,924.6 L207.9,924.5 L208.9,924.4 L209.9,924.4 L210.9,924.3 L211.9,924.2 L212.9,924.1 L213.9,924.0 L214.9,923.9 L215.9,923.9 L216.9,923.8 L217.9,923.7 L218.9,923.6 L219.9,923.5 L220.9,923.4 L221.9,923.3 L222.9,923.2 L223.9,923.1 L224.9,923.0 L225.9,922.9 L226.9,922.8 L227.9,922.6 L228.9,922.5 L229.9,922.4 L230.8,922.3 L231.8,922.2 L232.8,922.1 L233.8,921.9 L234.8,921.8 L235.8,921.7 L236.8,921.5 L237.8,921.4 L238.8,921.3 L239.8,921.1 L240.8,921.0 L241.8,920.9 L242.8,920.7 L243.8,920.6 L244.8,920.4 L245.8,920.2 L246.8,920.1 L247.8,919.9 L248.8,919.8 L249.8,919.6 L250.8,919.4 L251.8,919.3 L252.8,919.1 L253.8,918.9 L254.8,918.7 L255.8,918.5 L256.8,918.3 L257.8,918.1 L258.8,917.9 L259.8,917.7 L260.8,917.5 L261.8,917.3 L262.8,917.1 L263.8,916.9 L264.8,916.7 L265.8,916.4 L266.8,916.2 L267.8,916.0 L268.8,915.7 L269.8,915.5 L270.8,915.2 L271.8,915.0 L272.8,914.7 L273.8,914.5 L274.8,914.2 L275.8,913.9 L276.8,913.6 L277.7,913.4 L278.7,913.1 L279.7,912.8 L280.7,912.5 L281.7,912.2 L282.7,911.8 L283.7,911.5 L284.7,911.2 L285.7,910.9 L286.7,910.5 L287.7,910.2 L288.7,909.8 L289.7,909.5 L290.7,909.1 L291.7,908.7 L292.7,908.4 L293.7,908.0 L294.7,907.6 L295.7,907.2 L296.7,906.8 L297.7,906.4 L298.7,905.9 L299.7,905.5 L300.7,905.1 L301.7,904.6 L302.7,904.2 L303.7,903.7 L304.7,903.2 L305.7,902.8 L306.7,902.3 L307.7,901.8 L308.7,901.3 L309.7,900.8 L310.7,900.2 L311.7,899.7 L312.7,899.2 L313.7,898.6 L314.7,898.0 L315.7,897.5 L316.7,896.9 L317.7,896.3 L318.7,895.7 L319.7,895.1 L320.7,894.4 L321.7,893.8 L322.7,893.2 L323.7,892.5 L324.6,891.8 L325.6,891.1 L326.6,890.4 L327.6,889.7 L328.6,889.0 L329.6,888.3 L330.6,887.5 L331.6,886.8 L332.6,886.0 L333.6,885.2 L334.6,884.4 L335.6,883.6 L336.6,882.8 L337.6,882.0 L338.6,881.1 L339.6,880.3 L340.6,879.4 L341.6,878.5 L342.6,877.6 L343.6,876.7 L344.6,875.7 L345.6,874.8 L346.6,873.8 L347.6,872.8 L348.6,871.8 L349.6,870.8 L350.6,869.8 L351.6,868.8 L352.6,867.7 L353.6,866.6 L354.6,865.5 L355.6,864.4 L356.6,863.3 L357.6,862.1 L358.6,861.0 L359.6,859.8 L360.6,858.6 L361.6,857.4 L362.6,856.1 L363.6,854.9 L364.6,853.6 L365.6,852.3 L366.6,851.0 L367.6,849.7 L368.6,848.4 L369.6,847.0 L370.5,845.6 L371.5,844.2 L372.5,842.8 L373.5,841.3 L374.5,839.9 L375.5,838.4 L376.5,836.9 L377.5,835.3 L378.5,833.8 L379.5,832.2 L380.5,830.6 L381.5,829.0 L382.5,827.4 L383.5,825.7 L384.5,824.1 L385.5,822.4 L386.5,820.6 L387.5,818.9 L388.5,817.1 L389.5,815.3 L390.5,813.5 L391.5,811.7 L392.5,809.8 L393.5,807.9 L394.5,806.0 L395.5,804.1 L396.5,802.2 L397.5,800.2 L398.5,798.2 L399.5,796.2 L400.5,794.1 L401.5,792.0 L402.5,789.9 L403.5,787.8 L404.5,785.7 L405.5,783.5 L406.5,781.3 L407.5,779.1 L408.5,776.8 L409.5,774.6 L410.5,772.3 L411.5,769.9 L412.5,767.6 L413.5,765.2 L414.5,762.8 L415.5,760.4 L416.5,758.0 L417.4,755.5 L418.4,753.0 L419.4,750.5 L420.4,747.9 L421.4,745.3 L422.4,742.7 L423.4,740.1 L424.4,737.4 L425.4,734.7 L426.4,732.0 L427.4,729.3 L428.4,726.5 L429.4,723.8 L430.4,720.9 L431.4,718.1 L432.4,715.2 L433.4,712.3 L434.4,709.4 L435.4,706.5 L436.4,703.5 L437.4,700.5 L438.4,697.5 L439.4,694.4 L440.4,691.4 L441.4,688.3 L442.4,685.1 L443.4,682.0 L444.4,678.8 L445.4,675.6 L446.4,672.4 L447.4,669.1 L448.4,665.9 L449.4,662.6 L450.4,659.2 L451.4,655.9 L452.4,652.5 L453.4,649.1 L454.4,645.7 L455.4,642.2 L456.4,638.8 L457.4,635.3 L458.4,631.8 L459.4,628.2 L460.4,624.7 L461.4,621.1 L462.4,617.5 L463.4,613.8 L464.3,610.2 L465.3,606.5 L466.3,602.8 L467.3,599.1 L468.3,595.3 L469.3,591.6 L470.3,587.8 L471.3,584.0 L472.3,580.2 L473.3,576.3 L474.3,572.5 L475.3,568.6 L476.3,564.7 L477.3,560.8 L478.3,556.8 L479.3,552.9 L480.3,548.9 L481.3,544.9 L482.3,540.9 L483.3,536.9 L484.3,532.8 L485.3,528.8 L486.3,524.7 L487.3,520.6 L488.3,516.5 L489.3,512.4 L490.3,508.3 L491.3,504.1 L492.3,500.0 L493.3,495.8 L494.3,491.6 L495.3,487.5 L496.3,483.3 L497.3,479.0 L498.3,474.8 L499.3,470.6 L500.3,466.4 L501.3,462.1 L502.3,457.9 L503.3,453.6 L504.3,449.3 L505.3,445.1 L506.3,440.8 L507.3,436.5 L508.3,432.2 L509.3,427.9 L510.2,423.6 L511.2,419.3 L512.2,415.0 L513.2,410.7 L514.2,406.4 L515.2,402.1 L516.2,397.8 L517.2,393.5 L518.2,389.2 L519.2,384.9 L520.2,380.6 L521.2,376.3 L522.2,372.0 L523.2,367.7 L524.2,363.4 L525.2,359.1 L526.2,354.8 L527.2,350.6 L528.2,346.3 L529.2,342.1 L530.2,337.8 L531.2,333.6 L532.2,329.4 L533.2,325.2 L534.2,321.0 L535.2,316.8 L536.2,312.6 L537.2,308.5 L538.2,304.3 L539.2,300.2 L540.2,296.1 L541.2,292.0 L542.2,287.9 L543.2,283.9 L544.2,279.8 L545.2,275.8 L546.2,271.8 L547.2,267.8 L548.2,263.9 L549.2,260.0 L550.2,256.0 L551.2,252.2 L552.2,248.3 L553.2,244.5 L554.2,240.7 L555.2,236.9 L556.2,233.1 L557.1,229.4 L558.1,225.7 L559.1,222.1 L560.1,218.4 L561.1,214.8 L562.1,211.3 L563.1,207.7 L564.1,204.2 L565.1,200.8 L566.1,197.3 L567.1,193.9 L568.1,190.6 L569.1,187.3 L570.1,184.0 L571.1,180.7 L572.1,177.5 L573.1,174.4 L574.1,171.3 L575.1,168.2 L576.1,165.1 L577.1,162.1 L578.1,159.2 L579.1,156.3 L580.1,153.4 L581.1,150.6 L582.1,147.9 L583.1,145.1 L584.1,142.5 L585.1,139.9 L586.1,137.3 L587.1,134.8 L588.1,132.3 L589.1,129.9 L590.1,127.5 L591.1,125.2 L592.1,122.9 L593.1,120.7 L594.1,118.6 L595.1,116.5 L596.1,114.4 L597.1,112.4 L598.1,110.5 L599.1,108.6 L600.1,106.8 L601.1,105.1 L602.1,103.4 L603.1,101.7 L604.0,100.2 L605.0,98.6 L606.0,97.2 L607.0,95.8 L608.0,94.4 L609.0,93.2 L610.0,91.9 L611.0,90.8 L612.0,89.7 L613.0,88.7 L614.0,87.7 L615.0,86.8 L616.0,86.0 L617.0,85.2 L618.0,84.5 L619.0,83.8 L620.0,83.2 L621.0,82.7 L622.0,82.3 L623.0,81.9 L624.0,81.6 L625.0,81.3 L626.0,81.1 L627.0,81.0 L628.0,80.9 L629.0,80.9 L630.0,81.0 L631.0,81.1 L632.0,81.3 L633.0,81.6 L634.0,81.9 L635.0,82.3 L636.0,82.8 L637.0,83.3 L638.0,83.9 L639.0,84.5 L640.0,85.3 L641.0,86.1 L642.0,86.9 L643.0,87.8 L644.0,88.8 L645.0,89.8 L646.0,90.9 L647.0,92.1 L648.0,93.3 L649.0,94.6 L649.9,96.0 L650.9,97.4 L651.9,98.9 L652.9,100.4 L653.9,102.0 L654.9,103.7 L655.9,105.4 L656.9,107.2 L657.9,109.0 L658.9,110.9 L659.9,112.8 L660.9,114.8 L661.9,116.9 L662.9,119.0 L663.9,121.2 L664.9,123.4 L665.9,125.7 L666.9,128.1 L667.9,130.5 L668.9,132.9 L669.9,135.4 L670.9,138.0 L671.9,140.6 L672.9,143.2 L673.9,145.9 L674.9,148.7 L675.9,151.5 L676.9,154.3 L677.9,157.2 L678.9,160.2 L679.9,163.2 L680.9,166.2 L681.9,169.3 L682.9,172.4 L683.9,175.6 L684.9,178.8 L685.9,182.0 L686.9,185.3 L687.9,188.6 L688.9,192.0 L689.9,195.4 L690.9,198.9 L691.9,202.4 L692.9,205.9 L693.9,209.4 L694.9,213.0 L695.9,216.7 L696.8,220.3 L697.8,224.0 L698.8,227.7 L699.8,231.5 L700.8,235.3 L701.8,239.1 L702.8,242.9 L703.8,246.8 L704.8,250.7 L705.8,254.6 L706.8,258.6 L707.8,262.6 L708.8,266.6 L709.8,270.6 L710.8,274.7 L711.8,278.7 L712.8,282.8 L713.8,287.0 L714.8,291.1 L715.8,295.3 L716.8,299.4 L717.8,303.6 L718.8,307.8 L719.8,312.1 L720.8,316.3 L721.8,320.6 L722.8,324.8 L723.8,329.1 L724.8,333.4 L725.8,337.7 L726.8,342.0 L727.8,346.4 L728.8,350.7 L729.8,355.1 L730.8,359.4 L731.8,363.8 L732.8,368.2 L733.8,372.5 L734.8,376.9 L735.8,381.3 L736.8,385.7 L737.8,390.1 L738.8,394.5 L739.8,398.9 L740.8,403.3 L741.8,407.8 L742.7,412.2 L743.7,416.6 L744.7,421.0 L745.7,425.4 L746.7,429.8 L747.7,434.2 L748.7,438.6 L749.7,443.0 L750.7,447.4 L751.7,451.8 L752.7,456.2 L753.7,460.6 L754.7,464.9 L755.7,469.3 L756.7,473.6 L757.7,478.0 L758.7,482.3 L759.7,486.7 L760.7,491.0 L761.7,495.3 L762.7,499.6 L763.7,503.9 L764.7,508.2 L765.7,512.5 L766.7,516.7 L767.7,520.9 L768.7,525.2 L769.7,529.4 L770.7,533.6 L771.7,537.8 L772.7,542.0 L773.7,546.1 L774.7,550.3 L775.7,554.4 L776.7,558.5 L777.7,562.6 L778.7,566.6 L779.7,570.7 L780.7,574.7 L781.7,578.8 L782.7,582.8 L783.7,586.7 L784.7,590.7 L785.7,594.6 L786.7,598.6 L787.7,602.5 L788.7,606.4 L789.6,610.2 L790.6,614.0 L791.6,617.9 L792.6,621.7 L793.6,625.4 L794.6,629.2 L795.6,632.9 L796.6,636.6 L797.6,640.3 L798.6,644.0 L799.6,647.6 L800.6,651.2 L801.6,654.8 L802.6,658.4 L803.6,661.9 L804.6,665.4 L805.6,668.9 L806.6,672.4 L807.6,675.8 L808.6,679.2 L809.6,682.6 L810.6,686.0 L811.6,689.3 L812.6,692.6 L813.6,695.9 L814.6,699.2 L815.6,702.4 L816.6,705.6 L817.6,708.8 L818.6,712.0 L819.6,715.1 L820.6,718.2 L821.6,721.3 L822.6,724.3 L823.6,727.4 L824.6,730.4 L825.6,733.3 L826.6,736.3 L827.6,739.2 L828.6,742.1 L829.6,745.0 L830.6,747.8 L831.6,750.6 L832.6,753.4 L833.6,756.2 L834.6,758.9 L835.6,761.6 L836.5,764.3 L837.5,767.0 L838.5,769.6 L839.5,772.2 L840.5,774.8 L841.5,777.3 L842.5,779.8 L843.5,782.3 L844.5,784.8 L845.5,787.2 L846.5,789.7 L847.5,792.1 L848.5,794.4 L849.5,796.8 L850.5,799.1 L851.5,801.4 L852.5,803.6 L853.5,805.9 L854.5,808.1 L855.5,810.3 L856.5,812.4 L857.5,814.6 L858.5,816.7 L859.5,818.8 L860.5,820.8 L861.5,822.9 L862.5,824.9 L863.5,826.9 L864.5,828.8 L865.5,830.8 L866.5,832.7 L867.5,834.6 L868.5,836.5 L869.5,838.3 L870.5,840.1 L871.5,841.9 L872.5,843.7 L873.5,845.5 L874.5,847.2 L875.5,848.9 L876.5,850.6 L877.5,852.3 L878.5,853.9 L879.5,855.5 L880.5,857.1 L881.5,858.7 L882.4,860.3 L883.4,861.8 L884.4,863.3 L885.4,864.8 L886.4,866.3 L887.4,867.7 L888.4,869.2 L889.4,870.6 L890.4,872.0 L891.4,873.4 L892.4,874.7 L893.4,876.1 L894.4,877.4 L895.4,878.7 L896.4,879.9 L897.4,881.2 L898.4,882.4 L899.4,883.7 L900.4,884.9 L901.4,886.1 L902.4,887.2 L903.4,888.4 L904.4,889.5 L905.4,890.6 L906.4,891.7 L907.4,892.8 L908.4,893.9 L909.4,894.9 L910.4,896.0 L911.4,897.0 L912.4,898.0 L913.4,899.0 L914.4,900.0 L915.4,900.9 L916.4,901.8 L917.4,902.8 L918.4,903.7 L919.4,904.6 L920.4,905.5 L921.4,906.3 L922.4,907.2 L923.4,908.0 L924.4,908.9 L925.4,909.7 L926.4,910.5 L927.4,911.3 L928.4,912.0 L929.3,912.8 L930.3,913.5 L931.3,914.3 L932.3,915.0 L933.3,915.7 L934.3,916.4 L935.3,917.1 L936.3,917.8 L937.3,918.4 L938.3,919.1 L939.3,919.7 L940.3,920.4 L941.3,921.0 L942.3,921.6 L943.3,922.2 L944.3,922.8 L945.3,923.4 L946.3,923.9 L947.3,924.5 L948.3,925.0 L949.3,925.6 L950.3,926.1 L951.3,926.6 L952.3,927.1 L953.3,927.6 L954.3,928.1 L955.3,928.6 L956.3,929.1 L957.3,929.6 L958.3,930.0 L959.3,930.5 L960.3,930.9 L961.3,931.4 L962.3,931.8 L963.3,932.2 L964.3,932.6 L965.3,933.0 L966.3,933.4 L967.3,933.8 L968.3,934.2 L969.3,934.6 L970.3,934.9 L971.3,935.3 L972.3,935.7 L973.3,936.0 L974.3,936.3 L975.3,936.7 L976.2,937.0 L977.2,937.3 L978.2,937.7 L979.2,938.0 L980.2,938.3 L981.2,938.6 L982.2,938.9 L983.2,939.2 L984.2,939.5 L985.2,939.7 L986.2,940.0 L987.2,940.3 L988.2,940.5 L989.2,940.8 L990.2,941.1 L991.2,941.3 L992.2,941.6 L993.2,941.8 L994.2,942.0 L995.2,942.3 L996.2,942.5 L997.2,942.7 L998.2,942.9 L999.2,943.1 L1000.2,943.4 L1001.2,943.6 L1002.2,943.8 L1003.2,944.0 L1004.2,944.2 L1005.2,944.4 L1006.2,944.6 L1007.2,944.7 L1008.2,944.9 L1009.2,945.1 L1010.2,945.3 L1011.2,945.5 L1012.2,945.6 L1013.2,945.8 L1014.2,946.0 L1015.2,946.1 L1016.2,946.3 L1017.2,946.4 L1018.2,946.6 L1019.2,946.7 L1020.2,946.9 L1021.2,947.0 L1022.1,947.2 L1023.1,947.3 L1024.1,947.4 L1025.1,947.6 L1026.1,947.7 L1027.1,947.8 L1028.1,948.0 L1029.1,948.1 L1030.1,948.2 L1031.1,948.3 L1032.1,948.5 L1033.1,948.6 L1034.1,948.7 L1035.1,948.8 L1036.1,948.9 L1037.1,949.0 L1038.1,949.1 L1039.1,949.2 L1040.1,949.3 L1041.1,949.4 L1042.1,949.5 L1043.1,949.6 L1044.1,949.7 L1045.1,949.8 L1046.1,949.9 L1047.1,950.0 L1048.1,950.1 L1049.1,950.2 L1050.1,950.3 L1051.1,950.4 L1052.1,950.5 L1053.1,950.6 L1054.1,950.6 L1055.1,950.7 L1056.1,950.8 L1057.1,950.9 L1058.1,951.0 L1059.1,951.0 L1060.1,951.1 L1061.1,951.2 L1062.1,951.3 L1063.1,951.4 L1064.1,951.4 L1065.1,951.5 L1066.1,951.6 L1067.1,951.6 L1068.1,951.7 L1069.0,951.8 L1070.0,951.8 L1071.0,951.9 L1072.0,952.0 L1073.0,952.0 L1074.0,952.1 L1075.0,952.2 L1076.0,952.2 L1077.0,952.3 L1078.0,952.3 L1079.0,952.4 L1080.0,952.5 L1081.0,952.5 L1082.0,952.6 L1083.0,952.6 L1084.0,952.7 L1085.0,952.8 L1086.0,952.8 L1087.0,952.9 L1088.0,952.9 L1089.0,953.0 L1090.0,953.0 L1091.0,953.1 L1092.0,953.1 L1093.0,953.2 L1094.0,953.2 L1095.0,953.3 L1096.0,953.3 L1097.0,953.4 L1098.0,953.4 L1099.0,953.5 L1100.0,953.5 L1101.0,953.6 L1102.0,953.6 L1103.0,953.7 L1104.0,953.7 L1105.0,953.8 L1106.0,953.8 L1107.0,953.9 L1108.0,953.9 L1109.0,953.9 L1110.0,954.0 L1111.0,954.0 L1112.0,954.1 L1113.0,954.1 L1114.0,954.2 L1114.9,954.2 L1115.9,954.2 L1116.9,954.3 L1117.9,954.3 L1118.9,954.4 L1119.9,954.4 L1120.9,954.5 L1121.9,954.5 L1122.9,954.5 L1123.9,954.6 L1124.9,954.6 L1125.9,954.7 L1126.9,954.7 L1127.9,954.7 L1128.9,954.8 L1129.9,954.8 L1130.9,954.9 L1131.9,954.9 L1132.9,954.9 L1133.9,955.0 L1134.9,955.0 L1135.9,955.1 L1136.9,955.1 L1137.9,955.1 L1138.9,955.2 L1139.9,955.2 L1140.9,955.2 L1141.9,955.3 L1142.9,955.3 L1143.9,955.4 L1144.9,955.4 L1145.9,955.4 L1146.9,955.5 L1147.9,955.5 L1148.9,955.5 L1149.9,955.6 L1150.9,955.6 L1151.9,955.6 L1152.9,955.7 L1153.9,955.7 L1154.9,955.8 L1155.9,955.8 L1156.9,955.8 L1157.9,955.9 L1158.9,955.9 L1159.9,955.9 L1160.9,956.0 L1161.8,956.0 L1162.8,956.1 L1163.8,956.1 L1164.8,956.1 L1165.8,956.2 L1166.8,956.2 L1167.8,956.2 L1168.8,956.3 L1169.8,956.3 L1170.8,956.3 L1171.8,956.4 L1172.8,956.4 L1173.8,956.4 L1174.8,956.5 L1175.8,956.5 L1176.8,956.6 L1177.8,956.6 L1178.8,956.6 L1179.8,956.7 L1180.8,956.7 L1181.8,956.7 L1182.8,956.8 L1183.8,956.8 L1184.8,956.9 L1185.8,956.9 L1186.8,956.9 L1187.8,957.0 L1188.8,957.0 L1189.8,957.0 L1190.8,957.1 L1191.8,957.1 L1192.8,957.1 L1193.8,957.2 L1194.8,957.2 L1195.8,957.3 L1196.8,957.3 L1197.8,957.3 L1198.8,957.4 L1199.8,957.4 L1200.8,957.5 L1201.8,957.5 L1202.8,957.5 L1203.8,957.6 L1204.8,957.6 L1205.8,957.6 L1206.8,957.7 L1207.8,957.7 L1208.7,957.8 L1209.7,957.8 L1210.7,957.8 L1211.7,957.9 L1212.7,957.9 L1213.7,958.0 L1214.7,958.0 L1215.7,958.0 L1216.7,958.1 L1217.7,958.1 L1218.7,958.2 L1219.7,958.2 L1220.7,958.2 L1221.7,958.3 L1222.7,958.3 L1223.7,958.4 L1224.7,958.4 L1225.7,958.4 L1226.7,958.5 L1227.7,958.5 L1228.7,958.6 L1229.7,958.6 L1230.7,958.6 L1231.7,958.7 L1232.7,958.7 L1233.7,958.8 L1234.7,958.8 L1235.7,958.9 L1236.7,958.9 L1237.7,958.9 L1238.7,959.0 L1239.7,959.0 L1240.7,959.1 L1241.7,959.1 L1242.7,959.1 L1243.7,959.2 L1244.7,959.2 L1245.7,959.3 L1246.7,959.3 L1247.7,959.4 L1248.7,959.4 L1249.7,959.4 L1250.7,959.5 L1251.7,959.5 L1252.7,959.6 L1253.7,959.6 L1254.6,959.7 L1255.6,959.7 L1256.6,959.7 L1257.6,959.8 L1258.6,959.8 L1259.6,959.9 L1260.6,959.9 L1261.6,960.0 L1262.6,960.0 L1263.6,960.1 L1264.6,960.1 L1265.6,960.1 L1266.6,960.2 L1267.6,960.2 L1268.6,960.3 L1269.6,960.3 L1270.6,960.4 L1271.6,960.4 L1272.6,960.4 L1273.6,960.5 L1274.6,960.5 L1275.6,960.6 L1276.6,960.6 L1277.6,960.7 L1278.6,960.7 L1279.6,960.7 L1280.6,960.8 L1281.6,960.8 L1282.6,960.9 L1283.6,960.9 L1284.6,961.0 L1285.6,961.0 L1286.6,961.0 L1287.6,961.1 L1288.6,961.1 L1289.6,961.2 L1290.6,961.2 L1291.6,961.3 L1292.6,961.3 L1293.6,961.3 L1294.6,961.4 L1295.6,961.4 L1296.6,961.5 L1297.6,961.5 L1298.6,961.5 L1299.6,961.6 L1300.6,961.6 L1301.5,961.7 L1302.5,961.7 L1303.5,961.7 L1304.5,961.8 L1305.5,961.8 L1306.5,961.9 L1307.5,961.9 L1308.5,961.9 L1309.5,962.0 L1310.5,962.0 L1311.5,962.1 L1312.5,962.1 L1313.5,962.1 L1314.5,962.2 L1315.5,962.2 L1316.5,962.3 L1317.5,962.3 L1318.5,962.3 L1319.5,962.4 L1320.5,962.4 L1321.5,962.4 L1322.5,962.5 L1323.5,962.5 L1324.5,962.5 L1325.5,962.6 L1326.5,962.6 L1327.5,962.7 L1328.5,962.7 L1329.5,962.7 L1330.5,962.8 L1331.5,962.8 L1332.5,962.8 L1333.5,962.9 L1334.5,962.9 L1335.5,962.9 L1336.5,963.0 L1337.5,963.0 L1338.5,963.0 L1339.5,963.1 L1340.5,963.1 L1341.5,963.1 L1342.5,963.2 L1343.5,963.2 L1344.5,963.2 L1345.5,963.2 L1346.5,963.3 L1347.5,963.3 L1348.4,963.3 L1349.4,963.4 L1350.4,963.4 L1351.4,963.4 L1352.4,963.5 L1353.4,963.5 L1354.4,963.5 L1355.4,963.5 L1356.4,963.6 L1357.4,963.6 L1358.4,963.6 L1359.4,963.6 L1360.4,963.7 L1361.4,963.7 L1362.4,963.7 L1363.4,963.7 L1364.4,963.8 L1365.4,963.8 L1366.4,963.8 L1367.4,963.8 L1368.4,963.9 L1369.4,963.9 L1370.4,963.9 L1371.4,963.9 L1372.4,964.0 L1373.4,964.0 L1374.4,964.0 L1375.4,964.0 L1376.4,964.1 L1377.4,964.1 L1378.4,964.1 L1379.4,964.1 L1380.4,964.1 L1381.4,964.2 L1382.4,964.2 L1383.4,964.2 L1384.4,964.2 L1385.4,964.2 L1386.4,964.3 L1387.4,964.3 L1388.4,964.3 L1389.4,964.3 L1390.4,964.3 L1391.4,964.4 L1392.4,964.4 L1393.4,964.4 L1394.3,964.4 L1395.3,964.4 L1396.3,964.5 L1397.3,964.5 L1398.3,964.5 L1399.3,964.5 L1400.3,964.5 L1401.3,964.5 L1402.3,964.6 L1403.3,964.6 L1404.3,964.6 L1405.3,964.6 L1406.3,964.6 L1407.3,964.6 L1408.3,964.7 L1409.3,964.7 L1410.3,964.7 L1411.3,964.7 L1412.3,964.7 L1413.3,964.7 L1414.3,964.7 L1415.3,964.8 L1416.3,964.8 L1417.3,964.8 L1418.3,964.8 L1419.3,964.8 L1420.3,964.8 L1421.3,964.8 L1422.3,964.8 L1423.3,964.9 L1424.3,964.9 L1425.3,964.9 L1426.3,964.9 L1427.3,964.9 L1428.3,964.9 L1429.3,964.9 L1430.3,964.9 L1431.3,965.0 L1432.3,965.0 L1433.3,965.0 L1434.3,965.0 L1435.3,965.0 L1436.3,965.0 L1437.3,965.0 L1438.3,965.0 L1439.3,965.1 L1440.3,965.1 L1441.2,965.1 L1442.2,965.1 L1443.2,965.1 L1444.2,965.1 L1445.2,965.1 L1446.2,965.1 L1447.2,965.1 L1448.2,965.1 L1449.2,965.2 L1450.2,965.2 L1451.2,965.2 L1452.2,965.2 L1453.2,965.2 L1454.2,965.2 L1455.2,965.2 L1456.2,965.2 L1457.2,965.2 L1458.2,965.2 L1459.2,965.2 L1460.2,965.3 L1461.2,965.3 L1462.2,965.3 L1463.2,965.3 L1464.2,965.3 L1465.2,965.3 L1466.2,965.3 L1467.2,965.3 L1468.2,965.3 L1469.2,965.3 L1470.2,965.3 L1471.2,965.4 L1472.2,965.4 L1473.2,965.4 L1474.2,965.4 L1475.2,965.4 L1476.2,965.4 L1477.2,965.4 L1478.2,965.4 L1479.2,965.4 L1480.2,965.4 L1481.2,965.4 L1482.2,965.4 L1483.2,965.4 L1484.2,965.5 L1485.2,965.5 L1486.2,965.5 L1487.2,965.5 L1488.1,965.5 L1489.1,965.5 L1490.1,965.5 L1491.1,965.5 L1492.1,965.5 L1493.1,965.5 L1494.1,965.5 L1495.1,965.5 L1496.1,965.5 L1497.1,965.5 L1498.1,965.6 L1499.1,965.6 L1500.1,965.6 L1501.1,965.6 L1502.1,965.6 L1503.1,965.6 L1504.1,965.6 L1505.1,965.6 L1506.1,965.6 L1507.1,965.6 L1508.1,965.6 L1509.1,965.6 L1510.1,965.6 L1511.1,965.6 L1512.1,965.6 L1513.1,965.7 L1514.1,965.7 L1515.1,965.7 L1516.1,965.7 L1517.1,965.7 L1518.1,965.7 L1519.1,965.7 L1520.1,965.7 L1521.1,965.7 L1522.1,965.7 L1523.1,965.7 L1524.1,965.7 L1525.1,965.7 L1526.1,965.7 L1527.1,965.7 L1528.1,965.7 L1529.1,965.7 L1530.1,965.8 L1531.1,965.8 L1532.1,965.8 L1533.1,965.8 L1534.0,965.8 L1535.0,965.8 L1536.0,965.8 L1537.0,965.8 L1538.0,965.8 L1539.0,965.8 L1540.0,965.8 L1541.0,965.8 L1542.0,965.8 L1543.0,965.8 L1544.0,965.8 L1545.0,965.8 L1546.0,965.8 L1547.0,965.8 L1548.0,965.9 L1549.0,965.9 L1550.0,965.9 L1551.0,965.9 L1552.0,965.9 L1553.0,965.9 L1554.0,965.9 L1555.0,965.9 L1556.0,965.9 L1557.0,965.9" fill="none" stroke="#ff3030" stroke-width="5" stroke-linejoin="round" stroke-linecap="round"/>
<rect x="154.8" y="1205.8" width="1431.7" height="969.6" fill="none" stroke="#000" stroke-width="8"/>
<line x1="181.0" y1="2173.0" x2="181.0" y2="2154.0" stroke="#000" stroke-width="6"/>
<line x1="389.3" y1="2173.0" x2="389.3" y2="2154.0" stroke="#000" stroke-width="6"/>
<line x1="597.7" y1="2173.0" x2="597.7" y2="2154.0" stroke="#000" stroke-width="6"/>
<line x1="806.0" y1="2173.0" x2="806.0" y2="2154.0" stroke="#000" stroke-width="6"/>
<line x1="1014.3" y1="2173.0" x2="1014.3" y2="2154.0" stroke="#000" stroke-width="6"/>
<line x1="1222.7" y1="2173.0" x2="1222.7" y2="2154.0" stroke="#000" stroke-width="6"/>
<line x1="1431.0" y1="2173.0" x2="1431.0" y2="2154.0" stroke="#000" stroke-width="6"/>
<text x="129.3" y="2246.0" font-size="70.0" font-family="'Liberation Serif', 'Times New Roman', serif" fill="#2a2a2a" textLength="101.5" lengthAdjust="spacingAndGlyphs">536</text>
<text x="337.6" y="2246.0" font-size="70.0" font-family="'Liberation Serif', 'Times New Roman', serif" fill="#2a2a2a" textLength="102.2" lengthAdjust="spacingAndGlyphs">535</text>
<text x="546.0" y="2246.0" font-size="70.0" font-family="'Liberation Serif', 'Times New Roman', serif" fill="#2a2a2a" textLength="100.5" lengthAdjust="spacingAndGlyphs">534</text>
<text x="754.3" y="2246.0" font-size="70.0" font-family="'Liberation Serif', 'Times New Roman', serif" fill="#2a2a2a" textLength="102.2" lengthAdjust="spacingAndGlyphs">533</text>
<text x="962.6" y="2246.0" font-size="70.0" font-family="'Liberation Serif', 'Times New Roman', serif" fill="#2a2a2a" textLength="103.4" lengthAdjust="spacingAndGlyphs">532</text>
<text x="1170.9" y="2246.0" font-size="70.0" font-family="'Liberation Serif', 'Times New Roman', serif" fill="#2a2a2a" textLength="103.7" lengthAdjust="spacingAndGlyphs">531</text>
<text x="1379.3" y="2246.0" font-size="70.0" font-family="'Liberation Serif', 'Times New Roman', serif" fill="#2a2a2a" textLength="102.1" lengthAdjust="spacingAndGlyphs">530</text>
<text x="497.6" y="2342.0" font-size="84.0" font-family="'Liberation Sans', Arial, sans-serif" fill="#000" textLength="745.0" lengthAdjust="spacingAndGlyphs">Binding Energy (eV)</text>
<text x="91.5" y="1973.2" font-size="84.0" font-family="'Liberation Sans', Arial, sans-serif" fill="#000" textLength="525.5" lengthAdjust="spacingAndGlyphs" transform="rotate(-90 91.5 1973.2)">Intensity (a.u.)</text>
<text x="191.6" y="1312.5" font-size="82.0" font-family="'Liberation Sans', Arial, sans-serif" fill="#000" textLength="104.6" lengthAdjust="spacingAndGlyphs">(b)</text>
<line x1="938" y1="1310.4" x2="1074.3" y2="1310.4" stroke="#000" stroke-width="6"/>
<circle cx="998.6" cy="1384.2" r="21" fill="#000"/>
<text x="1120.3" y="1330.5" font-size="70.0" font-family="'Liberation Sans', Arial, sans-serif" fill="#000" textLength="441.5" lengthAdjust="spacingAndGlyphs">O1s Measured</text>
<text x="1108.8" y="1406.5" font-size="70.0" font-family="'Liberation Sans', Arial, sans-serif" fill="#000" textLength="329.0" lengthAdjust="spacingAndGlyphs">O1s Fitting</text>
<text x="327.3" y="1459.5" font-size="70.0" font-family="'Liberation Sans', Arial, sans-serif" fill="#000" textLength="276.3" lengthAdjust="spacingAndGlyphs">O1s (SiO</text>
<text x="606.5" y="1474.5" font-size="47.0" font-family="'Liberation Sans', Arial, sans-serif" fill="#000" textLength="27.5" lengthAdjust="spacingAndGlyphs">2</text>
<text x="637.0" y="1459.5" font-size="70.0" font-family="'Liberation Sans', Arial, sans-serif" fill="#000" textLength="20.3" lengthAdjust="spacingAndGlyphs">)</text>
<text x="782.0" y="1737.2" font-size="74.0" font-family="'Liberation Sans', Arial, sans-serif" fill="#000" textLength="269.4" lengthAdjust="spacingAndGlyphs" transform="rotate(-90 782.0 1737.2)">532.9 eV</text>
<line x1="813.3" y1="1237.5" x2="813.3" y2="2133.0" stroke="#000" stroke-width="4.5" stroke-dasharray="27.5 26.7"/>
<path d="M170.0,2141.6 L174.0,2139.3 L178.0,2144.1 L182.0,2141.0 L186.0,2138.1 L190.0,2144.7 L194.0,2137.7 L198.0,2136.6 L202.0,2136.7 L206.0,2132.7 L210.0,2136.1 L214.0,2145.3 L218.0,2134.0 L222.0,2137.3 L226.0,2132.5 L230.0,2134.1 L234.0,2142.0 L238.0,2139.2 L242.0,2132.8 L246.0,2134.7 L250.0,2131.0 L254.0,2130.7 L258.0,2129.6 L262.0,2129.1 L266.0,2133.1 L270.0,2133.5 L274.0,2132.4 L278.0,2129.2 L282.0,2124.0 L286.0,2128.0 L290.0,2124.0 L294.0,2129.9 L298.0,2127.8 L302.0,2127.5 L306.0,2122.5 L310.0,2116.2 L314.0,2125.2 L318.0,2125.0 L322.0,2114.2 L326.0,2118.8 L330.0,2121.2 L334.0,2112.0 L338.0,2120.5 L342.0,2111.9 L346.0,2108.0 L350.0,2114.7 L354.0,2109.6 L358.0,2104.9 L362.0,2108.2 L366.0,2097.5 L370.0,2107.7 L374.0,2097.6 L378.0,2099.2 L382.0,2095.2 L386.0,2095.7 L390.0,2094.9 L394.0,2087.9 L398.0,2090.3 L402.0,2085.0 L406.0,2081.7 L410.0,2080.6 L414.0,2076.1 L418.0,2074.2 L422.0,2076.1 L426.0,2070.7 L430.0,2071.1 L434.0,2066.6 L438.0,2060.4 L442.0,2055.6 L446.0,2055.4 L450.0,2054.3 L454.0,2050.6 L458.0,2045.8 L462.0,2046.0 L466.0,2037.6 L470.0,2035.1 L474.0,2033.9 L478.0,2033.5 L482.0,2026.9 L486.0,2021.0 L490.0,2018.9 L494.0,2014.6 L498.0,2010.1 L502.0,2003.8 L506.0,1998.2 L510.0,1993.3 L514.0,1987.4 L518.0,1981.4 L522.0,1974.5 L526.0,1966.6 L530.0,1959.3 L534.0,1951.8 L538.0,1944.3 L542.0,1936.7 L546.0,1929.1 L550.0,1921.3 L554.0,1913.3 L558.0,1905.2 L562.0,1896.9 L566.0,1888.3 L570.0,1879.4 L574.0,1870.2 L578.0,1860.6 L582.0,1850.7 L586.0,1840.4 L590.0,1829.8 L594.0,1818.9 L598.0,1807.7 L602.0,1796.3 L606.0,1784.6 L610.0,1772.6 L614.0,1760.4 L618.0,1748.0 L622.0,1735.5 L626.0,1722.7 L630.0,1709.8 L634.0,1696.8 L638.0,1683.6 L642.0,1670.3 L646.0,1657.0 L650.0,1643.5 L654.0,1629.9 L658.0,1616.2 L662.0,1602.5 L666.0,1588.6 L670.0,1574.6 L674.0,1560.6 L678.0,1546.4 L682.0,1532.1 L686.0,1517.8 L690.0,1503.5 L694.0,1489.3 L698.0,1475.3 L702.0,1461.5 L706.0,1448.1 L710.0,1435.0 L714.0,1422.4 L718.0,1410.4 L722.0,1399.0 L726.0,1388.3 L730.0,1378.1 L734.0,1368.2 L738.0,1358.6 L742.0,1349.1 L746.0,1339.6 L750.0,1330.1 L754.0,1320.7 L758.0,1311.5 L762.0,1302.6 L766.0,1294.1 L770.0,1286.0 L774.0,1278.6 L778.0,1271.9 L782.0,1265.9 L786.0,1260.8 L790.0,1256.7 L794.0,1253.4 L798.0,1251.1 L802.0,1249.5 L806.0,1248.8 L810.0,1249.0 L814.0,1249.9 L818.0,1251.6 L822.0,1254.1 L826.0,1257.3 L830.0,1261.2 L834.0,1265.7 L838.0,1271.0 L842.0,1276.9 L846.0,1283.5 L850.0,1290.6 L854.0,1298.3 L858.0,1306.6 L862.0,1315.5 L866.0,1324.8 L870.0,1334.7 L874.0,1345.1 L878.0,1355.9 L882.0,1367.1 L886.0,1378.8 L890.0,1390.9 L894.0,1403.3 L898.0,1416.1 L902.0,1429.2 L906.0,1442.7 L910.0,1456.4 L914.0,1470.4 L918.0,1484.7 L922.0,1499.2 L926.0,1513.9 L930.0,1528.7 L934.0,1543.7 L938.0,1558.9 L942.0,1574.1 L946.0,1589.4 L950.0,1604.7 L954.0,1620.0 L958.0,1635.4 L962.0,1650.7 L966.0,1665.9 L970.0,1681.1 L974.0,1696.1 L978.0,1711.0 L982.0,1725.8 L986.0,1740.3 L990.0,1754.7 L994.0,1768.8 L998.0,1782.6 L1002.0,1796.1 L1006.0,1809.4 L1010.0,1822.3 L1014.0,1834.8 L1018.0,1846.9 L1022.0,1858.7 L1026.0,1870.0 L1030.0,1881.0 L1034.0,1891.6 L1038.0,1901.9 L1042.0,1911.8 L1046.0,1921.3 L1050.0,1930.6 L1054.0,1939.5 L1058.0,1948.0 L1062.0,1956.3 L1066.0,1964.3 L1070.0,1972.0 L1074.0,1979.4 L1078.0,1987.0 L1082.0,1992.5 L1086.0,2001.0 L1090.0,2005.9 L1094.0,2010.6 L1098.0,2017.3 L1102.0,2023.9 L1106.0,2029.8 L1110.0,2034.8 L1114.0,2041.1 L1118.0,2044.7 L1122.0,2049.4 L1126.0,2050.2 L1130.0,2059.3 L1134.0,2064.5 L1138.0,2065.7 L1142.0,2066.4 L1146.0,2071.2 L1150.0,2081.6 L1154.0,2079.7 L1158.0,2082.8 L1162.0,2085.4 L1166.0,2092.3 L1170.0,2091.8 L1174.0,2093.7 L1178.0,2094.5 L1182.0,2100.9 L1186.0,2106.5 L1190.0,2105.4 L1194.0,2110.6 L1198.0,2110.6 L1202.0,2112.4 L1206.0,2114.4 L1210.0,2115.7 L1214.0,2120.5 L1218.0,2120.3 L1222.0,2118.4 L1226.0,2122.1 L1230.0,2122.7 L1234.0,2125.9 L1238.0,2126.1 L1242.0,2128.0 L1246.0,2122.6 L1250.0,2129.9 L1254.0,2134.1 L1258.0,2125.8 L1262.0,2136.9 L1266.0,2133.2 L1270.0,2132.2 L1274.0,2127.3 L1278.0,2138.3 L1282.0,2131.6 L1286.0,2133.9 L1290.0,2138.4 L1294.0,2133.3 L1298.0,2134.1 L1302.0,2134.0 L1306.0,2138.4 L1310.0,2141.6 L1314.0,2141.5 L1318.0,2142.2 L1322.0,2140.0 L1326.0,2142.4 L1330.0,2140.0 L1334.0,2150.7 L1338.0,2144.7 L1342.0,2137.3 L1346.0,2141.4 L1350.0,2152.4 L1354.0,2141.8 L1358.0,2146.3" fill="none" stroke="#000" stroke-width="4.2" stroke-linejoin="round" stroke-linecap="round"/>
<g fill="#000"><circle cx="179.2" cy="2140.7" r="14.3"/><circle cx="200.1" cy="2138.0" r="14.3"/><circle cx="221.1" cy="2138.6" r="14.3"/><circle cx="242.0" cy="2137.1" r="14.3"/><circle cx="263.0" cy="2131.8" r="14.3"/><circle cx="283.9" cy="2130.2" r="14.3"/><circle cx="304.9" cy="2123.6" r="14.3"/><circle cx="325.9" cy="2117.7" r="14.3"/><circle cx="346.8" cy="2112.0" r="14.3"/><circle cx="367.8" cy="2103.7" r="14.3"/><circle cx="388.7" cy="2092.9" r="14.3"/><circle cx="409.6" cy="2082.7" r="14.3"/><circle cx="430.6" cy="2066.9" r="14.3"/><circle cx="451.5" cy="2052.1" r="14.3"/><circle cx="472.5" cy="2034.3" r="14.3"/><circle cx="493.4" cy="2015.7" r="14.3"/><circle cx="514.4" cy="1988.6" r="14.3"/><circle cx="535.3" cy="1951.4" r="14.3"/><circle cx="556.3" cy="1908.4" r="14.3"/><circle cx="577.2" cy="1863.6" r="14.3"/><circle cx="598.2" cy="1808.7" r="14.3"/><circle cx="619.1" cy="1743.4" r="14.3"/><circle cx="640.1" cy="1675.5" r="14.3"/><circle cx="661.0" cy="1604.9" r="14.3"/><circle cx="682.0" cy="1530.0" r="14.3"/><circle cx="703.0" cy="1453.6" r="14.3"/><circle cx="723.9" cy="1386.0" r="14.3"/><circle cx="744.8" cy="1331.9" r="14.3"/><circle cx="765.8" cy="1282.0" r="14.3"/><circle cx="786.8" cy="1243.6" r="14.3"/><circle cx="807.7" cy="1227.9" r="14.3"/><circle cx="828.6" cy="1236.7" r="14.3"/><circle cx="849.6" cy="1264.6" r="14.3"/><circle cx="870.5" cy="1312.5" r="14.3"/><circle cx="891.5" cy="1369.4" r="14.3"/><circle cx="912.5" cy="1438.8" r="14.3"/><circle cx="933.4" cy="1516.0" r="14.3"/><circle cx="954.3" cy="1597.5" r="14.3"/><circle cx="975.3" cy="1679.0" r="14.3"/><circle cx="996.2" cy="1758.0" r="14.3"/><circle cx="1017.2" cy="1828.2" r="14.3"/><circle cx="1038.1" cy="1889.6" r="14.3"/><circle cx="1059.1" cy="1938.6" r="14.3"/><circle cx="1080.0" cy="1981.4" r="14.3"/><circle cx="1101.0" cy="2016.2" r="14.3"/><circle cx="1122.0" cy="2042.3" r="14.3"/><circle cx="1142.9" cy="2066.7" r="14.3"/><circle cx="1163.8" cy="2085.4" r="14.3"/><circle cx="1184.8" cy="2099.6" r="14.3"/><circle cx="1205.8" cy="2110.9" r="14.3"/><circle cx="1226.7" cy="2118.3" r="14.3"/><circle cx="1247.7" cy="2127.8" r="14.3"/><circle cx="1268.6" cy="2130.7" r="14.3"/><circle cx="1289.5" cy="2134.2" r="14.3"/><circle cx="1310.5" cy="2139.4" r="14.3"/><circle cx="1331.5" cy="2140.2" r="14.3"/><circle cx="1352.4" cy="2146.9" r="14.3"/></g>
<rect x="155.0" y="2371.5" width="1432.3" height="968.5" fill="none" stroke="#000" stroke-width="8"/>
<line x1="181.0" y1="3338.0" x2="181.0" y2="3319.0" stroke="#000" stroke-width="6"/>
<line x1="389.5" y1="3338.0" x2="389.5" y2="3319.0" stroke="#000" stroke-width="6"/>
<line x1="598.0" y1="3338.0" x2="598.0" y2="3319.0" stroke="#000" stroke-width="6"/>
<line x1="806.5" y1="3338.0" x2="806.5" y2="3319.0" stroke="#000" stroke-width="6"/>
<line x1="1015.0" y1="3338.0" x2="1015.0" y2="3319.0" stroke="#000" stroke-width="6"/>
<line x1="1223.5" y1="3338.0" x2="1223.5" y2="3319.0" stroke="#000" stroke-width="6"/>
<line x1="1432.0" y1="3338.0" x2="1432.0" y2="3319.0" stroke="#000" stroke-width="6"/>
<text x="130.1" y="3410.5" font-size="70.0" font-family="'Liberation Serif', 'Times New Roman', serif" fill="#2a2a2a" textLength="101.4" lengthAdjust="spacingAndGlyphs">690</text>
<text x="338.6" y="3410.5" font-size="70.0" font-family="'Liberation Serif', 'Times New Roman', serif" fill="#2a2a2a" textLength="101.6" lengthAdjust="spacingAndGlyphs">689</text>
<text x="547.1" y="3410.5" font-size="70.0" font-family="'Liberation Serif', 'Times New Roman', serif" fill="#2a2a2a" textLength="101.4" lengthAdjust="spacingAndGlyphs">688</text>
<text x="755.6" y="3410.5" font-size="70.0" font-family="'Liberation Serif', 'Times New Roman', serif" fill="#2a2a2a" textLength="100.9" lengthAdjust="spacingAndGlyphs">687</text>
<text x="964.1" y="3410.5" font-size="70.0" font-family="'Liberation Serif', 'Times New Roman', serif" fill="#2a2a2a" textLength="100.9" lengthAdjust="spacingAndGlyphs">686</text>
<text x="1172.6" y="3410.5" font-size="70.0" font-family="'Liberation Serif', 'Times New Roman', serif" fill="#2a2a2a" textLength="101.6" lengthAdjust="spacingAndGlyphs">685</text>
<text x="1381.2" y="3410.5" font-size="70.0" font-family="'Liberation Serif', 'Times New Roman', serif" fill="#2a2a2a" textLength="99.8" lengthAdjust="spacingAndGlyphs">684</text>
<text x="462.5" y="3506.5" font-size="84.0" font-family="'Liberation Sans', Arial, sans-serif" fill="#000" textLength="745.6" lengthAdjust="spacingAndGlyphs">Binding Energy (eV)</text>
<text x="91.5" y="3093.9" font-size="84.0" font-family="'Liberation Sans', Arial, sans-serif" fill="#000" textLength="525.7" lengthAdjust="spacingAndGlyphs" transform="rotate(-90 91.5 3093.9)">Intensity (a.u.)</text>
<text x="195.7" y="2474.0" font-size="82.0" font-family="'Liberation Sans', Arial, sans-serif" fill="#000" textLength="104.5" lengthAdjust="spacingAndGlyphs">(c)</text>
<line x1="911.5" y1="2422" x2="1049" y2="2422" stroke="#000" stroke-width="6"/>
<circle cx="981" cy="2509" r="24.5" fill="#000"/>
<text x="1079.7" y="2448.5" font-size="78.0" font-family="'Liberation Sans', Arial, sans-serif" fill="#000" textLength="486.2" lengthAdjust="spacingAndGlyphs">F1s Measured</text>
<text x="1079.7" y="2533.5" font-size="78.0" font-family="'Liberation Sans', Arial, sans-serif" fill="#000" textLength="356.6" lengthAdjust="spacingAndGlyphs">F1s Fitting</text>
<text x="766.5" y="2957.9" font-size="74.0" font-family="'Liberation Sans', Arial, sans-serif" fill="#000" textLength="273.7" lengthAdjust="spacingAndGlyphs" transform="rotate(-90 766.5 2957.9)">687.1 eV</text>
<line x1="797.5" y1="2448.0" x2="797.5" y2="3325.0" stroke="#000" stroke-width="4.5" stroke-dasharray="29.5 24.5"/>
<path d="M173.8,3289.6 L185.4,3297.3 L222.8,3312.7 L256.8,3268.4 L285.7,3297.3 L302.0,3230.0 L328.6,3215.0 L350.4,3224.0 L370.0,3167.6 L391.0,3194.0 L412.0,3173.6 L432.7,3102.0 L453.6,3155.7 L474.4,3018.8 L495.0,2965.0 L519.0,2989.0 L537.0,2879.0 L560.7,2810.5 L578.6,2733.0 L602.4,2673.6 L638.0,2602.0 L662.0,2510.0 L679.8,2507.0 L703.6,2426.5 L724.4,2459.0 L745.0,2396.8 L772.0,2429.5 L790.0,2465.0 L808.0,2406.7 L824.3,2448.0 L849.5,2512.0 L870.0,2480.0 L881.7,2507.7 L897.7,2599.6 L911.5,2663.8 L933.6,2700.6 L952.8,2631.7 L969.0,2659.0 L989.6,2742.0 L1008.0,2765.0 L1021.7,2783.0 L1037.8,2870.5 L1063.0,2879.6 L1099.8,2925.6 L1122.7,2967.0 L1143.4,2955.4 L1161.5,2999.0 L1184.4,3018.4 L1199.8,3087.0 L1226.5,3031.8 L1247.6,3068.0 L1264.8,3217.4 L1289.7,3146.6 L1307.0,3202.0 L1331.8,3123.6 L1345.0,3229.0 L1372.0,3248.0 L1393.0,3211.6 L1414.0,3263.0 L1433.0,3303.5 L1458.0,3251.8 L1475.0,3278.6 L1498.0,3313.0 L1517.0,3286.0 L1540.0,3305.4 L1559.5,3255.7 L1571.0,3278.6" fill="none" stroke="#000" stroke-width="4.5" stroke-linejoin="round" stroke-linecap="round"/>
<path d="M1280.0,3192.4 L1290.4,3201.3 L1300.8,3206.4 L1311.2,3210.0 L1321.6,3214.4 L1332.0,3232.3 L1342.4,3231.3 L1352.8,3236.4 L1363.2,3248.7 L1373.6,3245.4 L1384.0,3251.0 L1394.4,3254.8 L1404.8,3258.6 L1415.2,3258.6 L1425.6,3263.2 L1436.0,3272.4 L1446.4,3273.0 L1456.8,3262.1 L1467.2,3267.7 L1477.6,3277.5 L1488.0,3277.7 L1498.4,3276.8 L1508.8,3281.4 L1519.2,3271.0 L1529.6,3280.8 L1540.0,3276.3 L1550.4,3276.9 L1560.8,3275.0 L1571.2,3276.0" fill="none" stroke="#000" stroke-width="4.5" stroke-linejoin="round" stroke-linecap="round"/>
<g fill="#000"><circle cx="182.5" cy="3273.5" r="14.3"/><circle cx="203.4" cy="3267.3" r="14.3"/><circle cx="224.3" cy="3259.9" r="14.3"/><circle cx="245.1" cy="3251.2" r="14.3"/><circle cx="266.0" cy="3240.9" r="14.3"/><circle cx="286.9" cy="3228.8" r="14.3"/><circle cx="307.8" cy="3214.6" r="14.3"/><circle cx="328.7" cy="3198.3" r="14.3"/><circle cx="349.5" cy="3179.4" r="14.3"/><circle cx="370.4" cy="3157.8" r="14.3"/><circle cx="391.3" cy="3133.4" r="14.3"/><circle cx="412.2" cy="3105.9" r="14.3"/><circle cx="433.1" cy="3075.3" r="14.3"/><circle cx="453.9" cy="3041.5" r="14.3"/><circle cx="474.8" cy="3004.6" r="14.3"/><circle cx="495.7" cy="2964.7" r="14.3"/><circle cx="516.6" cy="2922.1" r="14.3"/><circle cx="537.5" cy="2877.2" r="14.3"/><circle cx="558.3" cy="2830.5" r="14.3"/><circle cx="579.2" cy="2782.7" r="14.3"/><circle cx="600.1" cy="2734.5" r="14.3"/><circle cx="621.0" cy="2686.8" r="14.3"/><circle cx="641.9" cy="2640.6" r="14.3"/><circle cx="662.7" cy="2596.9" r="14.3"/><circle cx="683.6" cy="2556.7" r="14.3"/><circle cx="704.5" cy="2521.0" r="14.3"/><circle cx="725.4" cy="2490.8" r="14.3"/><circle cx="746.3" cy="2466.9" r="14.3"/><circle cx="767.1" cy="2450.0" r="14.3"/><circle cx="788.0" cy="2440.6" r="14.3"/><circle cx="808.9" cy="2438.9" r="14.3"/><circle cx="829.8" cy="2445.1" r="14.3"/><circle cx="850.7" cy="2458.8" r="14.3"/><circle cx="871.5" cy="2479.7" r="14.3"/><circle cx="892.4" cy="2507.2" r="14.3"/><circle cx="913.3" cy="2540.6" r="14.3"/><circle cx="934.2" cy="2578.9" r="14.3"/><circle cx="955.1" cy="2621.2" r="14.3"/><circle cx="975.9" cy="2666.4" r="14.3"/><circle cx="996.8" cy="2713.6" r="14.3"/><circle cx="1017.7" cy="2761.6" r="14.3"/><circle cx="1038.6" cy="2809.8" r="14.3"/><circle cx="1059.5" cy="2857.1" r="14.3"/><circle cx="1080.3" cy="2902.9" r="14.3"/><circle cx="1101.2" cy="2946.6" r="14.3"/><circle cx="1122.1" cy="2987.8" r="14.3"/><circle cx="1143.0" cy="3026.2" r="14.3"/><circle cx="1163.9" cy="3061.5" r="14.3"/><circle cx="1184.7" cy="3093.6" r="14.3"/><circle cx="1205.6" cy="3122.6" r="14.3"/><circle cx="1226.5" cy="3148.5" r="14.3"/><circle cx="1247.4" cy="3171.5" r="14.3"/><circle cx="1268.3" cy="3191.7" r="14.3"/><circle cx="1289.1" cy="3209.2" r="14.3"/><circle cx="1310.0" cy="3224.5" r="14.3"/><circle cx="1330.9" cy="3237.6" r="14.3"/><circle cx="1351.8" cy="3248.7" r="14.3"/><circle cx="1372.7" cy="3258.3" r="14.3"/><circle cx="1393.5" cy="3266.3" r="14.3"/><circle cx="1414.4" cy="3273.0" r="14.3"/><circle cx="1435.3" cy="3278.7" r="14.3"/><circle cx="1456.2" cy="3283.4" r="14.3"/><circle cx="1477.1" cy="3287.3" r="14.3"/><circle cx="1497.9" cy="3289.2" r="14.3"/><circle cx="1518.8" cy="3288.3" r="14.3"/><circle cx="1539.7" cy="3286.9" r="14.3"/><circle cx="1560.6" cy="3285.1" r="14.3"/></g></svg>
</body></html>
